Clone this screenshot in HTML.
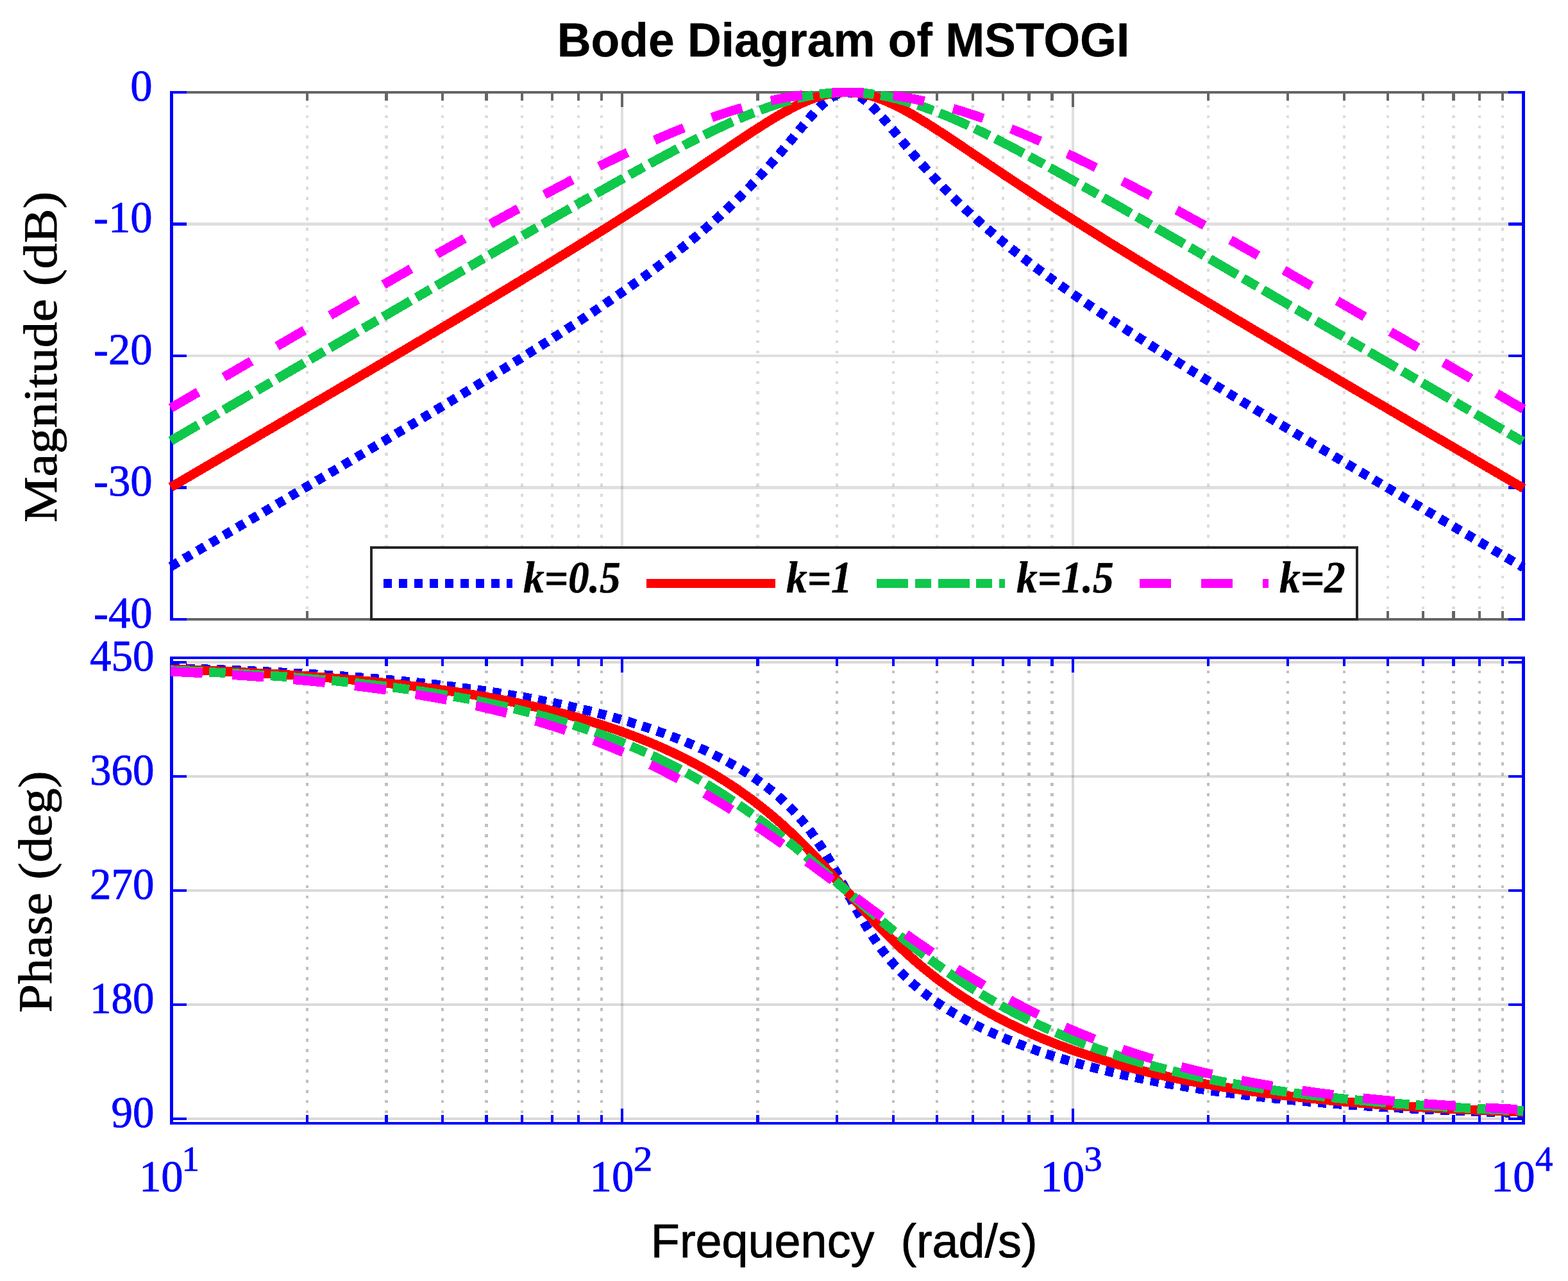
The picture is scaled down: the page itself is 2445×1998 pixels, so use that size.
<!DOCTYPE html>
<html lang="en"><head><meta charset="utf-8"><title>Bode Diagram of MSTOGI</title>
<style>html,body{margin:0;padding:0;background:#fff}body{width:2445px;height:1998px}svg{display:block}</style></head>
<body>
<svg width="2445" height="1998" viewBox="0 0 2445 1998" shape-rendering="crispEdges">
<rect width="2445" height="1998" fill="#fff"/>
<line x1="479" y1="144" x2="479" y2="966" stroke="#dcdcdc" stroke-width="4" stroke-dasharray="4.6 11.36" stroke-dashoffset="-3.64"/>
<line x1="602.5" y1="144" x2="602.5" y2="966" stroke="#dcdcdc" stroke-width="5" stroke-dasharray="4.6 11.36" stroke-dashoffset="-3.64"/>
<line x1="690" y1="144" x2="690" y2="966" stroke="#dcdcdc" stroke-width="4" stroke-dasharray="4.6 11.36" stroke-dashoffset="-3.64"/>
<line x1="758.5" y1="144" x2="758.5" y2="966" stroke="#dcdcdc" stroke-width="5" stroke-dasharray="4.6 11.36" stroke-dashoffset="-3.64"/>
<line x1="814" y1="144" x2="814" y2="966" stroke="#dcdcdc" stroke-width="4" stroke-dasharray="4.6 11.36" stroke-dashoffset="-3.64"/>
<line x1="861" y1="144" x2="861" y2="966" stroke="#dcdcdc" stroke-width="4" stroke-dasharray="4.6 11.36" stroke-dashoffset="-3.64"/>
<line x1="902" y1="144" x2="902" y2="966" stroke="#dcdcdc" stroke-width="4" stroke-dasharray="4.6 11.36" stroke-dashoffset="-3.64"/>
<line x1="938" y1="144" x2="938" y2="966" stroke="#dcdcdc" stroke-width="4" stroke-dasharray="4.6 11.36" stroke-dashoffset="-3.64"/>
<line x1="1181.5" y1="144" x2="1181.5" y2="966" stroke="#dcdcdc" stroke-width="5" stroke-dasharray="4.6 11.36" stroke-dashoffset="-3.64"/>
<line x1="1305" y1="144" x2="1305" y2="966" stroke="#dcdcdc" stroke-width="4" stroke-dasharray="4.6 11.36" stroke-dashoffset="-3.64"/>
<line x1="1393" y1="144" x2="1393" y2="966" stroke="#dcdcdc" stroke-width="4" stroke-dasharray="4.6 11.36" stroke-dashoffset="-3.64"/>
<line x1="1461" y1="144" x2="1461" y2="966" stroke="#dcdcdc" stroke-width="4" stroke-dasharray="4.6 11.36" stroke-dashoffset="-3.64"/>
<line x1="1517" y1="144" x2="1517" y2="966" stroke="#dcdcdc" stroke-width="4" stroke-dasharray="4.6 11.36" stroke-dashoffset="-3.64"/>
<line x1="1564" y1="144" x2="1564" y2="966" stroke="#dcdcdc" stroke-width="4" stroke-dasharray="4.6 11.36" stroke-dashoffset="-3.64"/>
<line x1="1604.5" y1="144" x2="1604.5" y2="966" stroke="#dcdcdc" stroke-width="5" stroke-dasharray="4.6 11.36" stroke-dashoffset="-3.64"/>
<line x1="1640.5" y1="144" x2="1640.5" y2="966" stroke="#dcdcdc" stroke-width="5" stroke-dasharray="4.6 11.36" stroke-dashoffset="-3.64"/>
<line x1="1884" y1="144" x2="1884" y2="966" stroke="#dcdcdc" stroke-width="4" stroke-dasharray="4.6 11.36" stroke-dashoffset="-3.64"/>
<line x1="2008" y1="144" x2="2008" y2="966" stroke="#dcdcdc" stroke-width="4" stroke-dasharray="4.6 11.36" stroke-dashoffset="-3.64"/>
<line x1="2096" y1="144" x2="2096" y2="966" stroke="#dcdcdc" stroke-width="4" stroke-dasharray="4.6 11.36" stroke-dashoffset="-3.64"/>
<line x1="2164" y1="144" x2="2164" y2="966" stroke="#dcdcdc" stroke-width="4" stroke-dasharray="4.6 11.36" stroke-dashoffset="-3.64"/>
<line x1="2219" y1="144" x2="2219" y2="966" stroke="#dcdcdc" stroke-width="4" stroke-dasharray="4.6 11.36" stroke-dashoffset="-3.64"/>
<line x1="2266.5" y1="144" x2="2266.5" y2="966" stroke="#dcdcdc" stroke-width="5" stroke-dasharray="4.6 11.36" stroke-dashoffset="-3.64"/>
<line x1="2307" y1="144" x2="2307" y2="966" stroke="#dcdcdc" stroke-width="4" stroke-dasharray="4.6 11.36" stroke-dashoffset="-3.64"/>
<line x1="2343" y1="144" x2="2343" y2="966" stroke="#dcdcdc" stroke-width="4" stroke-dasharray="4.6 11.36" stroke-dashoffset="-3.64"/>
<rect x="968" y="144" width="4" height="822" fill="rgba(38,38,38,0.15)"/>
<rect x="1671" y="144" width="4" height="822" fill="rgba(38,38,38,0.15)"/>
<rect x="267.5" y="347" width="2108" height="5" fill="rgba(38,38,38,0.15)"/>
<rect x="267.5" y="553" width="2108" height="4" fill="rgba(38,38,38,0.15)"/>
<rect x="267.5" y="758" width="2108" height="5" fill="rgba(38,38,38,0.15)"/>
<line x1="479" y1="1026" x2="479" y2="1752" stroke="#c0c0c0" stroke-width="4" stroke-dasharray="4.6 11.36" stroke-dashoffset="-3.62"/>
<line x1="602.5" y1="1026" x2="602.5" y2="1752" stroke="#c0c0c0" stroke-width="5" stroke-dasharray="4.6 11.36" stroke-dashoffset="-3.62"/>
<line x1="690" y1="1026" x2="690" y2="1752" stroke="#c0c0c0" stroke-width="4" stroke-dasharray="4.6 11.36" stroke-dashoffset="-3.62"/>
<line x1="758.5" y1="1026" x2="758.5" y2="1752" stroke="#c0c0c0" stroke-width="5" stroke-dasharray="4.6 11.36" stroke-dashoffset="-3.62"/>
<line x1="814" y1="1026" x2="814" y2="1752" stroke="#c0c0c0" stroke-width="4" stroke-dasharray="4.6 11.36" stroke-dashoffset="-3.62"/>
<line x1="861" y1="1026" x2="861" y2="1752" stroke="#c0c0c0" stroke-width="4" stroke-dasharray="4.6 11.36" stroke-dashoffset="-3.62"/>
<line x1="902" y1="1026" x2="902" y2="1752" stroke="#c0c0c0" stroke-width="4" stroke-dasharray="4.6 11.36" stroke-dashoffset="-3.62"/>
<line x1="938" y1="1026" x2="938" y2="1752" stroke="#c0c0c0" stroke-width="4" stroke-dasharray="4.6 11.36" stroke-dashoffset="-3.62"/>
<line x1="1181.5" y1="1026" x2="1181.5" y2="1752" stroke="#c0c0c0" stroke-width="5" stroke-dasharray="4.6 11.36" stroke-dashoffset="-3.62"/>
<line x1="1305" y1="1026" x2="1305" y2="1752" stroke="#c0c0c0" stroke-width="4" stroke-dasharray="4.6 11.36" stroke-dashoffset="-3.62"/>
<line x1="1393" y1="1026" x2="1393" y2="1752" stroke="#c0c0c0" stroke-width="4" stroke-dasharray="4.6 11.36" stroke-dashoffset="-3.62"/>
<line x1="1461" y1="1026" x2="1461" y2="1752" stroke="#c0c0c0" stroke-width="4" stroke-dasharray="4.6 11.36" stroke-dashoffset="-3.62"/>
<line x1="1517" y1="1026" x2="1517" y2="1752" stroke="#c0c0c0" stroke-width="4" stroke-dasharray="4.6 11.36" stroke-dashoffset="-3.62"/>
<line x1="1564" y1="1026" x2="1564" y2="1752" stroke="#c0c0c0" stroke-width="4" stroke-dasharray="4.6 11.36" stroke-dashoffset="-3.62"/>
<line x1="1604.5" y1="1026" x2="1604.5" y2="1752" stroke="#c0c0c0" stroke-width="5" stroke-dasharray="4.6 11.36" stroke-dashoffset="-3.62"/>
<line x1="1640.5" y1="1026" x2="1640.5" y2="1752" stroke="#c0c0c0" stroke-width="5" stroke-dasharray="4.6 11.36" stroke-dashoffset="-3.62"/>
<line x1="1884" y1="1026" x2="1884" y2="1752" stroke="#c0c0c0" stroke-width="4" stroke-dasharray="4.6 11.36" stroke-dashoffset="-3.62"/>
<line x1="2008" y1="1026" x2="2008" y2="1752" stroke="#c0c0c0" stroke-width="4" stroke-dasharray="4.6 11.36" stroke-dashoffset="-3.62"/>
<line x1="2096" y1="1026" x2="2096" y2="1752" stroke="#c0c0c0" stroke-width="4" stroke-dasharray="4.6 11.36" stroke-dashoffset="-3.62"/>
<line x1="2164" y1="1026" x2="2164" y2="1752" stroke="#c0c0c0" stroke-width="4" stroke-dasharray="4.6 11.36" stroke-dashoffset="-3.62"/>
<line x1="2219" y1="1026" x2="2219" y2="1752" stroke="#c0c0c0" stroke-width="4" stroke-dasharray="4.6 11.36" stroke-dashoffset="-3.62"/>
<line x1="2266.5" y1="1026" x2="2266.5" y2="1752" stroke="#c0c0c0" stroke-width="5" stroke-dasharray="4.6 11.36" stroke-dashoffset="-3.62"/>
<line x1="2307" y1="1026" x2="2307" y2="1752" stroke="#c0c0c0" stroke-width="4" stroke-dasharray="4.6 11.36" stroke-dashoffset="-3.62"/>
<line x1="2343" y1="1026" x2="2343" y2="1752" stroke="#c0c0c0" stroke-width="4" stroke-dasharray="4.6 11.36" stroke-dashoffset="-3.62"/>
<rect x="968" y="1026" width="4" height="726" fill="rgba(38,38,38,0.17)"/>
<rect x="1671" y="1026" width="4" height="726" fill="rgba(38,38,38,0.17)"/>
<rect x="267.5" y="1031" width="2108" height="4" fill="rgba(38,38,38,0.17)"/>
<rect x="267.5" y="1209" width="2108" height="4" fill="rgba(38,38,38,0.17)"/>
<rect x="267.5" y="1387" width="2108" height="4" fill="rgba(38,38,38,0.17)"/>
<rect x="267.5" y="1565" width="2108" height="4" fill="rgba(38,38,38,0.17)"/>
<rect x="267.5" y="1743" width="2108" height="4" fill="rgba(38,38,38,0.17)"/>
<rect x="265" y="142" width="2113" height="4" fill="#666666"/>
<rect x="265" y="964" width="2113" height="4" fill="#666666"/>
<rect x="477" y="144" width="4" height="13" fill="#666666"/>
<rect x="477" y="953" width="4" height="13" fill="#666666"/>
<rect x="600" y="144" width="5" height="13" fill="#666666"/>
<rect x="600" y="953" width="5" height="13" fill="#666666"/>
<rect x="688" y="144" width="4" height="13" fill="#666666"/>
<rect x="688" y="953" width="4" height="13" fill="#666666"/>
<rect x="756" y="144" width="5" height="13" fill="#666666"/>
<rect x="756" y="953" width="5" height="13" fill="#666666"/>
<rect x="812" y="144" width="4" height="13" fill="#666666"/>
<rect x="812" y="953" width="4" height="13" fill="#666666"/>
<rect x="859" y="144" width="4" height="13" fill="#666666"/>
<rect x="859" y="953" width="4" height="13" fill="#666666"/>
<rect x="900" y="144" width="4" height="13" fill="#666666"/>
<rect x="900" y="953" width="4" height="13" fill="#666666"/>
<rect x="936" y="144" width="4" height="13" fill="#666666"/>
<rect x="936" y="953" width="4" height="13" fill="#666666"/>
<rect x="1179" y="144" width="5" height="13" fill="#666666"/>
<rect x="1179" y="953" width="5" height="13" fill="#666666"/>
<rect x="1303" y="144" width="4" height="13" fill="#666666"/>
<rect x="1303" y="953" width="4" height="13" fill="#666666"/>
<rect x="1391" y="144" width="4" height="13" fill="#666666"/>
<rect x="1391" y="953" width="4" height="13" fill="#666666"/>
<rect x="1459" y="144" width="4" height="13" fill="#666666"/>
<rect x="1459" y="953" width="4" height="13" fill="#666666"/>
<rect x="1515" y="144" width="4" height="13" fill="#666666"/>
<rect x="1515" y="953" width="4" height="13" fill="#666666"/>
<rect x="1562" y="144" width="4" height="13" fill="#666666"/>
<rect x="1562" y="953" width="4" height="13" fill="#666666"/>
<rect x="1602" y="144" width="5" height="13" fill="#666666"/>
<rect x="1602" y="953" width="5" height="13" fill="#666666"/>
<rect x="1638" y="144" width="5" height="13" fill="#666666"/>
<rect x="1638" y="953" width="5" height="13" fill="#666666"/>
<rect x="1882" y="144" width="4" height="13" fill="#666666"/>
<rect x="1882" y="953" width="4" height="13" fill="#666666"/>
<rect x="2006" y="144" width="4" height="13" fill="#666666"/>
<rect x="2006" y="953" width="4" height="13" fill="#666666"/>
<rect x="2094" y="144" width="4" height="13" fill="#666666"/>
<rect x="2094" y="953" width="4" height="13" fill="#666666"/>
<rect x="2162" y="144" width="4" height="13" fill="#666666"/>
<rect x="2162" y="953" width="4" height="13" fill="#666666"/>
<rect x="2217" y="144" width="4" height="13" fill="#666666"/>
<rect x="2217" y="953" width="4" height="13" fill="#666666"/>
<rect x="2264" y="144" width="5" height="13" fill="#666666"/>
<rect x="2264" y="953" width="5" height="13" fill="#666666"/>
<rect x="2305" y="144" width="4" height="13" fill="#666666"/>
<rect x="2305" y="953" width="4" height="13" fill="#666666"/>
<rect x="2341" y="144" width="4" height="13" fill="#666666"/>
<rect x="2341" y="953" width="4" height="13" fill="#666666"/>
<rect x="968" y="144" width="4" height="23" fill="#666666"/>
<rect x="968" y="943" width="4" height="23" fill="#666666"/>
<rect x="1671" y="144" width="4" height="23" fill="#666666"/>
<rect x="1671" y="943" width="4" height="23" fill="#666666"/>
<rect x="265" y="142" width="5" height="826" fill="#0000ff"/>
<rect x="2373" y="142" width="5" height="826" fill="#0000ff"/>
<rect x="265" y="142" width="26" height="4" fill="#0000ff"/>
<rect x="2352" y="142" width="26" height="4" fill="#0000ff"/>
<rect x="265" y="347" width="26" height="5" fill="#0000ff"/>
<rect x="2352" y="347" width="26" height="5" fill="#0000ff"/>
<rect x="265" y="553" width="26" height="4" fill="#0000ff"/>
<rect x="2352" y="553" width="26" height="4" fill="#0000ff"/>
<rect x="265" y="758" width="26" height="5" fill="#0000ff"/>
<rect x="2352" y="758" width="26" height="5" fill="#0000ff"/>
<rect x="265" y="964" width="26" height="4" fill="#0000ff"/>
<rect x="2352" y="964" width="26" height="4" fill="#0000ff"/>
<rect x="265" y="1024" width="2113" height="4" fill="#0000ff"/>
<rect x="265" y="1750" width="2113" height="4" fill="#0000ff"/>
<rect x="477" y="1026" width="4" height="13" fill="#0000ff"/>
<rect x="477" y="1739" width="4" height="13" fill="#0000ff"/>
<rect x="600" y="1026" width="5" height="13" fill="#0000ff"/>
<rect x="600" y="1739" width="5" height="13" fill="#0000ff"/>
<rect x="688" y="1026" width="4" height="13" fill="#0000ff"/>
<rect x="688" y="1739" width="4" height="13" fill="#0000ff"/>
<rect x="756" y="1026" width="5" height="13" fill="#0000ff"/>
<rect x="756" y="1739" width="5" height="13" fill="#0000ff"/>
<rect x="812" y="1026" width="4" height="13" fill="#0000ff"/>
<rect x="812" y="1739" width="4" height="13" fill="#0000ff"/>
<rect x="859" y="1026" width="4" height="13" fill="#0000ff"/>
<rect x="859" y="1739" width="4" height="13" fill="#0000ff"/>
<rect x="900" y="1026" width="4" height="13" fill="#0000ff"/>
<rect x="900" y="1739" width="4" height="13" fill="#0000ff"/>
<rect x="936" y="1026" width="4" height="13" fill="#0000ff"/>
<rect x="936" y="1739" width="4" height="13" fill="#0000ff"/>
<rect x="1179" y="1026" width="5" height="13" fill="#0000ff"/>
<rect x="1179" y="1739" width="5" height="13" fill="#0000ff"/>
<rect x="1303" y="1026" width="4" height="13" fill="#0000ff"/>
<rect x="1303" y="1739" width="4" height="13" fill="#0000ff"/>
<rect x="1391" y="1026" width="4" height="13" fill="#0000ff"/>
<rect x="1391" y="1739" width="4" height="13" fill="#0000ff"/>
<rect x="1459" y="1026" width="4" height="13" fill="#0000ff"/>
<rect x="1459" y="1739" width="4" height="13" fill="#0000ff"/>
<rect x="1515" y="1026" width="4" height="13" fill="#0000ff"/>
<rect x="1515" y="1739" width="4" height="13" fill="#0000ff"/>
<rect x="1562" y="1026" width="4" height="13" fill="#0000ff"/>
<rect x="1562" y="1739" width="4" height="13" fill="#0000ff"/>
<rect x="1602" y="1026" width="5" height="13" fill="#0000ff"/>
<rect x="1602" y="1739" width="5" height="13" fill="#0000ff"/>
<rect x="1638" y="1026" width="5" height="13" fill="#0000ff"/>
<rect x="1638" y="1739" width="5" height="13" fill="#0000ff"/>
<rect x="1882" y="1026" width="4" height="13" fill="#0000ff"/>
<rect x="1882" y="1739" width="4" height="13" fill="#0000ff"/>
<rect x="2006" y="1026" width="4" height="13" fill="#0000ff"/>
<rect x="2006" y="1739" width="4" height="13" fill="#0000ff"/>
<rect x="2094" y="1026" width="4" height="13" fill="#0000ff"/>
<rect x="2094" y="1739" width="4" height="13" fill="#0000ff"/>
<rect x="2162" y="1026" width="4" height="13" fill="#0000ff"/>
<rect x="2162" y="1739" width="4" height="13" fill="#0000ff"/>
<rect x="2217" y="1026" width="4" height="13" fill="#0000ff"/>
<rect x="2217" y="1739" width="4" height="13" fill="#0000ff"/>
<rect x="2264" y="1026" width="5" height="13" fill="#0000ff"/>
<rect x="2264" y="1739" width="5" height="13" fill="#0000ff"/>
<rect x="2305" y="1026" width="4" height="13" fill="#0000ff"/>
<rect x="2305" y="1739" width="4" height="13" fill="#0000ff"/>
<rect x="2341" y="1026" width="4" height="13" fill="#0000ff"/>
<rect x="2341" y="1739" width="4" height="13" fill="#0000ff"/>
<rect x="968" y="1026" width="4" height="23" fill="#0000ff"/>
<rect x="968" y="1729" width="4" height="23" fill="#0000ff"/>
<rect x="1671" y="1026" width="4" height="23" fill="#0000ff"/>
<rect x="1671" y="1729" width="4" height="23" fill="#0000ff"/>
<rect x="265" y="1024" width="5" height="730" fill="#0000ff"/>
<rect x="2373" y="1024" width="5" height="730" fill="#0000ff"/>
<rect x="265" y="1031" width="26" height="4" fill="#0000ff"/>
<rect x="2352" y="1031" width="26" height="4" fill="#0000ff"/>
<rect x="265" y="1209" width="26" height="4" fill="#0000ff"/>
<rect x="2352" y="1209" width="26" height="4" fill="#0000ff"/>
<rect x="265" y="1387" width="26" height="4" fill="#0000ff"/>
<rect x="2352" y="1387" width="26" height="4" fill="#0000ff"/>
<rect x="265" y="1565" width="26" height="4" fill="#0000ff"/>
<rect x="2352" y="1565" width="26" height="4" fill="#0000ff"/>
<rect x="265" y="1743" width="26" height="4" fill="#0000ff"/>
<rect x="2352" y="1743" width="26" height="4" fill="#0000ff"/>
<g fill="none" stroke-width="14.6" stroke-linejoin="round" shape-rendering="crispEdges">
<polyline points="266.3,883.6 267.5,882.9 271.0,880.8 274.5,878.8 278.0,876.7 281.6,874.7 285.1,872.6 288.6,870.5 292.1,868.5 295.6,866.4 299.1,864.4 302.6,862.3 306.1,860.2 309.7,858.2 313.2,856.1 316.7,854.1 320.2,852.0 323.7,849.9 327.2,847.9 330.7,845.8 334.3,843.8 337.8,841.7 341.3,839.6 344.8,837.6 348.3,835.5 351.8,833.5 355.3,831.4 358.8,829.3 362.4,827.3 365.9,825.2 369.4,823.1 372.9,821.1 376.4,819.0 379.9,817.0 383.4,814.9 387.0,812.8 390.5,810.8 394.0,808.7 397.5,806.6 401.0,804.6 404.5,802.5 408.0,800.5 411.5,798.4 415.1,796.3 418.6,794.3 422.1,792.2 425.6,790.1 429.1,788.1 432.6,786.0 436.1,783.9 439.7,781.9 443.2,779.8 446.7,777.7 450.2,775.7 453.7,773.6 457.2,771.5 460.7,769.5 464.2,767.4 467.8,765.3 471.3,763.3 474.8,761.2 478.3,759.1 481.8,757.1 485.3,755.0 488.8,752.9 492.4,750.8 495.9,748.8 499.4,746.7 502.9,744.6 506.4,742.6 509.9,740.5 513.4,738.4 516.9,736.3 520.5,734.3 524.0,732.2 527.5,730.1 531.0,728.0 534.5,726.0 538.0,723.9 541.5,721.8 545.1,719.7 548.6,717.7 552.1,715.6 555.6,713.5 559.1,711.4 562.6,709.3 566.1,707.3 569.6,705.2 573.2,703.1 576.7,701.0 580.2,698.9 583.7,696.8 587.2,694.8 590.7,692.7 594.2,690.6 597.8,688.5 601.3,686.4 604.8,684.3 608.3,682.2 611.8,680.1 615.3,678.1 618.8,676.0 622.3,673.9 625.9,671.8 629.4,669.7 632.9,667.6 636.4,665.5 639.9,663.4 643.4,661.3 646.9,659.2 650.5,657.1 654.0,655.0 657.5,652.9 661.0,650.8 664.5,648.7 668.0,646.6 671.5,644.5 675.0,642.4 678.6,640.3 682.1,638.2 685.6,636.0 689.1,633.9 692.6,631.8 696.1,629.7 699.6,627.6 703.2,625.5 706.7,623.3 710.2,621.2 713.7,619.1 717.2,617.0 720.7,614.9 724.2,612.7 727.7,610.6 731.3,608.5 734.8,606.3 738.3,604.2 741.8,602.1 745.3,599.9 748.8,597.8 752.3,595.6 755.9,593.5 759.4,591.3 762.9,589.2 766.4,587.0 769.9,584.9 773.4,582.7 776.9,580.6 780.4,578.4 784.0,576.3 787.5,574.1 791.0,571.9 794.5,569.7 798.0,567.6 801.5,565.4 805.0,563.2 808.6,561.0 812.1,558.9 815.6,556.7 819.1,554.5 822.6,552.3 826.1,550.1 829.6,547.9 833.1,545.7 836.7,543.5 840.2,541.2 843.7,539.0 847.2,536.8 850.7,534.6 854.2,532.4 857.7,530.1 861.3,527.9 864.8,525.6 868.3,523.4 871.8,521.2 875.3,518.9 878.8,516.6 882.3,514.4 885.8,512.1 889.4,509.8 892.9,507.5 896.4,505.3 899.9,503.0 903.4,500.7 906.9,498.4 910.4,496.1 914.0,493.8 917.5,491.4 921.0,489.1 924.5,486.8 928.0,484.4 931.5,482.1 935.0,479.7 938.5,477.4 942.1,475.0 945.6,472.6 949.1,470.2 952.6,467.8 956.1,465.4 959.6,463.0 963.1,460.6 966.7,458.2 970.2,455.7 973.7,453.3 977.2,450.8 980.7,448.4 984.2,445.9 987.7,443.4 991.2,440.9 994.8,438.4 998.3,435.9 1001.8,433.4 1005.3,430.8 1008.8,428.3 1012.3,425.7 1015.8,423.1 1019.4,420.5 1022.9,417.9 1026.4,415.3 1029.9,412.6 1033.4,410.0 1036.9,407.3 1040.4,404.7 1043.9,402.0 1047.5,399.2 1051.0,396.5 1054.5,393.8 1058.0,391.0 1061.5,388.2 1065.0,385.4 1068.5,382.6 1072.1,379.8 1075.6,376.9 1079.1,374.0 1082.6,371.1 1086.1,368.2 1089.6,365.3 1093.1,362.3 1096.6,359.3 1100.2,356.3 1103.7,353.3 1107.2,350.2 1110.7,347.1 1114.2,344.0 1117.7,340.8 1121.2,337.7 1124.8,334.5 1128.3,331.2 1131.8,328.0 1135.3,324.7 1138.8,321.4 1142.3,318.0 1145.8,314.6 1149.3,311.2 1152.9,307.8 1156.4,304.3 1159.9,300.7 1163.4,297.2 1166.9,293.6 1170.4,290.0 1173.9,286.3 1177.5,282.6 1181.0,278.8 1184.5,275.0 1188.0,271.2 1191.5,267.4 1195.0,263.5 1198.5,259.5 1202.0,255.5 1205.6,251.5 1209.1,247.5 1212.6,243.4 1216.1,239.3 1219.6,235.1 1223.1,231.0 1226.6,226.8 1230.2,222.5 1233.7,218.3 1237.2,214.1 1240.7,209.8 1244.2,205.6 1247.7,201.4 1251.2,197.2 1254.7,193.0 1258.3,188.9 1261.8,184.8 1265.3,180.8 1268.8,176.9 1272.3,173.1 1275.8,169.4 1279.3,165.9 1282.9,162.6 1286.4,159.5 1289.9,156.6 1293.4,153.9 1296.9,151.5 1300.4,149.4 1303.9,147.6 1307.4,146.2 1311.0,145.1 1314.5,144.4 1318.0,144.0 1321.5,144.1 1325.0,144.5 1328.5,145.2 1332.0,146.4 1335.6,147.9 1339.1,149.7 1342.6,151.8 1346.1,154.3 1349.6,157.0 1353.1,159.9 1356.6,163.1 1360.1,166.4 1363.7,169.9 1367.2,173.6 1370.7,177.4 1374.2,181.3 1377.7,185.4 1381.2,189.4 1384.7,193.6 1388.3,197.7 1391.8,202.0 1395.3,206.2 1398.8,210.4 1402.3,214.7 1405.8,218.9 1409.3,223.1 1412.8,227.4 1416.4,231.5 1419.9,235.7 1423.4,239.9 1426.9,244.0 1430.4,248.0 1433.9,252.1 1437.4,256.1 1441.0,260.1 1444.5,264.0 1448.0,267.9 1451.5,271.8 1455.0,275.6 1458.5,279.4 1462.0,283.1 1465.5,286.8 1469.1,290.5 1472.6,294.1 1476.1,297.7 1479.6,301.2 1483.1,304.8 1486.6,308.2 1490.1,311.7 1493.7,315.1 1497.2,318.5 1500.7,321.8 1504.2,325.2 1507.7,328.4 1511.2,331.7 1514.7,334.9 1518.2,338.1 1521.8,341.3 1525.3,344.4 1528.8,347.5 1532.3,350.6 1535.8,353.7 1539.3,356.7 1542.8,359.7 1546.4,362.7 1549.9,365.7 1553.4,368.6 1556.9,371.5 1560.4,374.4 1563.9,377.3 1567.4,380.2 1570.9,383.0 1574.5,385.8 1578.0,388.6 1581.5,391.4 1585.0,394.2 1588.5,396.9 1592.0,399.6 1595.5,402.3 1599.1,405.0 1602.6,407.7 1606.1,410.4 1609.6,413.0 1613.1,415.7 1616.6,418.3 1620.1,420.9 1623.6,423.5 1627.2,426.0 1630.7,428.6 1634.2,431.2 1637.7,433.7 1641.2,436.2 1644.7,438.8 1648.2,441.3 1651.8,443.8 1655.3,446.2 1658.8,448.7 1662.3,451.2 1665.8,453.6 1669.3,456.1 1672.8,458.5 1676.3,460.9 1679.9,463.4 1683.4,465.8 1686.9,468.2 1690.4,470.6 1693.9,472.9 1697.4,475.3 1700.9,477.7 1704.5,480.1 1708.0,482.4 1711.5,484.8 1715.0,487.1 1718.5,489.4 1722.0,491.8 1725.5,494.1 1729.0,496.4 1732.6,498.7 1736.1,501.0 1739.6,503.3 1743.1,505.6 1746.6,507.9 1750.1,510.1 1753.6,512.4 1757.2,514.7 1760.7,517.0 1764.2,519.2 1767.7,521.5 1771.2,523.7 1774.7,526.0 1778.2,528.2 1781.7,530.4 1785.3,532.7 1788.8,534.9 1792.3,537.1 1795.8,539.3 1799.3,541.6 1802.8,543.8 1806.3,546.0 1809.9,548.2 1813.4,550.4 1816.9,552.6 1820.4,554.8 1823.9,557.0 1827.4,559.2 1830.9,561.3 1834.4,563.5 1838.0,565.7 1841.5,567.9 1845.0,570.1 1848.5,572.2 1852.0,574.4 1855.5,576.6 1859.0,578.7 1862.6,580.9 1866.1,583.0 1869.6,585.2 1873.1,587.3 1876.6,589.5 1880.1,591.6 1883.6,593.8 1887.1,595.9 1890.7,598.1 1894.2,600.2 1897.7,602.4 1901.2,604.5 1904.7,606.6 1908.2,608.8 1911.7,610.9 1915.3,613.0 1918.8,615.2 1922.3,617.3 1925.8,619.4 1929.3,621.5 1932.8,623.6 1936.3,625.8 1939.8,627.9 1943.4,630.0 1946.9,632.1 1950.4,634.2 1953.9,636.3 1957.4,638.5 1960.9,640.6 1964.4,642.7 1968.0,644.8 1971.5,646.9 1975.0,649.0 1978.5,651.1 1982.0,653.2 1985.5,655.3 1989.0,657.4 1992.5,659.5 1996.1,661.6 1999.6,663.7 2003.1,665.8 2006.6,667.9 2010.1,670.0 2013.6,672.1 2017.1,674.2 2020.7,676.3 2024.2,678.3 2027.7,680.4 2031.2,682.5 2034.7,684.6 2038.2,686.7 2041.7,688.8 2045.2,690.9 2048.8,693.0 2052.3,695.0 2055.8,697.1 2059.3,699.2 2062.8,701.3 2066.3,703.4 2069.8,705.5 2073.4,707.5 2076.9,709.6 2080.4,711.7 2083.9,713.8 2087.4,715.9 2090.9,717.9 2094.4,720.0 2097.9,722.1 2101.5,724.2 2105.0,726.3 2108.5,728.3 2112.0,730.4 2115.5,732.5 2119.0,734.6 2122.5,736.6 2126.1,738.7 2129.6,740.8 2133.1,742.8 2136.6,744.9 2140.1,747.0 2143.6,749.1 2147.1,751.1 2150.6,753.2 2154.2,755.3 2157.7,757.3 2161.2,759.4 2164.7,761.5 2168.2,763.5 2171.7,765.6 2175.2,767.7 2178.8,769.8 2182.3,771.8 2185.8,773.9 2189.3,776.0 2192.8,778.0 2196.3,780.1 2199.8,782.2 2203.3,784.2 2206.9,786.3 2210.4,788.4 2213.9,790.4 2217.4,792.5 2220.9,794.5 2224.4,796.6 2227.9,798.7 2231.5,800.7 2235.0,802.8 2238.5,804.9 2242.0,806.9 2245.5,809.0 2249.0,811.1 2252.5,813.1 2256.0,815.2 2259.6,817.2 2263.1,819.3 2266.6,821.4 2270.1,823.4 2273.6,825.5 2277.1,827.6 2280.6,829.6 2284.2,831.7 2287.7,833.7 2291.2,835.8 2294.7,837.9 2298.2,839.9 2301.7,842.0 2305.2,844.1 2308.7,846.1 2312.3,848.2 2315.8,850.2 2319.3,852.3 2322.8,854.4 2326.3,856.4 2329.8,858.5 2333.3,860.5 2336.9,862.6 2340.4,864.7 2343.9,866.7 2347.4,868.8 2350.9,870.8 2354.4,872.9 2357.9,874.9 2361.4,877.0 2365.0,879.1 2368.5,881.1 2372.0,883.2 2375.5,885.2" stroke="#0000ff" stroke-dasharray="13.3 10.67"/>
<polyline points="266.3,759.9 267.5,759.2 271.0,757.2 274.5,755.1 278.0,753.1 281.6,751.0 285.1,749.0 288.6,746.9 292.1,744.8 295.6,742.8 299.1,740.7 302.6,738.7 306.1,736.6 309.7,734.5 313.2,732.5 316.7,730.4 320.2,728.4 323.7,726.3 327.2,724.3 330.7,722.2 334.3,720.1 337.8,718.1 341.3,716.0 344.8,714.0 348.3,711.9 351.8,709.9 355.3,707.8 358.8,705.7 362.4,703.7 365.9,701.6 369.4,699.6 372.9,697.5 376.4,695.4 379.9,693.4 383.4,691.3 387.0,689.3 390.5,687.2 394.0,685.1 397.5,683.1 401.0,681.0 404.5,679.0 408.0,676.9 411.5,674.8 415.1,672.8 418.6,670.7 422.1,668.7 425.6,666.6 429.1,664.5 432.6,662.5 436.1,660.4 439.7,658.4 443.2,656.3 446.7,654.2 450.2,652.2 453.7,650.1 457.2,648.0 460.7,646.0 464.2,643.9 467.8,641.9 471.3,639.8 474.8,637.7 478.3,635.7 481.8,633.6 485.3,631.5 488.8,629.5 492.4,627.4 495.9,625.4 499.4,623.3 502.9,621.2 506.4,619.2 509.9,617.1 513.4,615.0 516.9,613.0 520.5,610.9 524.0,608.8 527.5,606.8 531.0,604.7 534.5,602.6 538.0,600.6 541.5,598.5 545.1,596.4 548.6,594.4 552.1,592.3 555.6,590.2 559.1,588.2 562.6,586.1 566.1,584.0 569.6,581.9 573.2,579.9 576.7,577.8 580.2,575.7 583.7,573.7 587.2,571.6 590.7,569.5 594.2,567.4 597.8,565.4 601.3,563.3 604.8,561.2 608.3,559.2 611.8,557.1 615.3,555.0 618.8,552.9 622.3,550.9 625.9,548.8 629.4,546.7 632.9,544.6 636.4,542.5 639.9,540.5 643.4,538.4 646.9,536.3 650.5,534.2 654.0,532.1 657.5,530.1 661.0,528.0 664.5,525.9 668.0,523.8 671.5,521.7 675.0,519.7 678.6,517.6 682.1,515.5 685.6,513.4 689.1,511.3 692.6,509.2 696.1,507.1 699.6,505.0 703.2,503.0 706.7,500.9 710.2,498.8 713.7,496.7 717.2,494.6 720.7,492.5 724.2,490.4 727.7,488.3 731.3,486.2 734.8,484.1 738.3,482.0 741.8,479.9 745.3,477.8 748.8,475.7 752.3,473.6 755.9,471.5 759.4,469.4 762.9,467.3 766.4,465.2 769.9,463.1 773.4,461.0 776.9,458.8 780.4,456.7 784.0,454.6 787.5,452.5 791.0,450.4 794.5,448.3 798.0,446.1 801.5,444.0 805.0,441.9 808.6,439.8 812.1,437.7 815.6,435.5 819.1,433.4 822.6,431.3 826.1,429.1 829.6,427.0 833.1,424.9 836.7,422.7 840.2,420.6 843.7,418.5 847.2,416.3 850.7,414.2 854.2,412.0 857.7,409.9 861.3,407.7 864.8,405.6 868.3,403.4 871.8,401.3 875.3,399.1 878.8,396.9 882.3,394.8 885.8,392.6 889.4,390.4 892.9,388.3 896.4,386.1 899.9,383.9 903.4,381.7 906.9,379.6 910.4,377.4 914.0,375.2 917.5,373.0 921.0,370.8 924.5,368.6 928.0,366.4 931.5,364.2 935.0,362.0 938.5,359.8 942.1,357.6 945.6,355.4 949.1,353.2 952.6,351.0 956.1,348.7 959.6,346.5 963.1,344.3 966.7,342.0 970.2,339.8 973.7,337.6 977.2,335.3 980.7,333.1 984.2,330.8 987.7,328.6 991.2,326.3 994.8,324.1 998.3,321.8 1001.8,319.5 1005.3,317.2 1008.8,315.0 1012.3,312.7 1015.8,310.4 1019.4,308.1 1022.9,305.8 1026.4,303.5 1029.9,301.2 1033.4,298.9 1036.9,296.6 1040.4,294.3 1043.9,292.0 1047.5,289.7 1051.0,287.3 1054.5,285.0 1058.0,282.7 1061.5,280.4 1065.0,278.0 1068.5,275.7 1072.1,273.3 1075.6,271.0 1079.1,268.6 1082.6,266.3 1086.1,263.9 1089.6,261.6 1093.1,259.2 1096.6,256.8 1100.2,254.5 1103.7,252.1 1107.2,249.7 1110.7,247.4 1114.2,245.0 1117.7,242.6 1121.2,240.2 1124.8,237.9 1128.3,235.5 1131.8,233.1 1135.3,230.8 1138.8,228.4 1142.3,226.0 1145.8,223.7 1149.3,221.3 1152.9,219.0 1156.4,216.6 1159.9,214.3 1163.4,211.9 1166.9,209.6 1170.4,207.3 1173.9,205.0 1177.5,202.7 1181.0,200.5 1184.5,198.2 1188.0,196.0 1191.5,193.7 1195.0,191.5 1198.5,189.3 1202.0,187.2 1205.6,185.0 1209.1,182.9 1212.6,180.9 1216.1,178.8 1219.6,176.8 1223.1,174.8 1226.6,172.9 1230.2,171.0 1233.7,169.1 1237.2,167.3 1240.7,165.5 1244.2,163.8 1247.7,162.1 1251.2,160.5 1254.7,159.0 1258.3,157.5 1261.8,156.1 1265.3,154.7 1268.8,153.4 1272.3,152.2 1275.8,151.1 1279.3,150.0 1282.9,149.0 1286.4,148.1 1289.9,147.3 1293.4,146.6 1296.9,145.9 1300.4,145.4 1303.9,144.9 1307.4,144.6 1311.0,144.3 1314.5,144.1 1318.0,144.0 1321.5,144.0 1325.0,144.1 1328.5,144.3 1332.0,144.6 1335.6,145.0 1339.1,145.5 1342.6,146.0 1346.1,146.7 1349.6,147.4 1353.1,148.2 1356.6,149.2 1360.1,150.2 1363.7,151.2 1367.2,152.4 1370.7,153.6 1374.2,154.9 1377.7,156.3 1381.2,157.7 1384.7,159.2 1388.3,160.8 1391.8,162.4 1395.3,164.0 1398.8,165.8 1402.3,167.5 1405.8,169.4 1409.3,171.2 1412.8,173.1 1416.4,175.1 1419.9,177.1 1423.4,179.1 1426.9,181.1 1430.4,183.2 1433.9,185.3 1437.4,187.5 1441.0,189.7 1444.5,191.8 1448.0,194.0 1451.5,196.3 1455.0,198.5 1458.5,200.8 1462.0,203.1 1465.5,205.3 1469.1,207.6 1472.6,210.0 1476.1,212.3 1479.6,214.6 1483.1,216.9 1486.6,219.3 1490.1,221.6 1493.7,224.0 1497.2,226.4 1500.7,228.7 1504.2,231.1 1507.7,233.5 1511.2,235.8 1514.7,238.2 1518.2,240.6 1521.8,242.9 1525.3,245.3 1528.8,247.7 1532.3,250.1 1535.8,252.4 1539.3,254.8 1542.8,257.2 1546.4,259.5 1549.9,261.9 1553.4,264.2 1556.9,266.6 1560.4,269.0 1563.9,271.3 1567.4,273.7 1570.9,276.0 1574.5,278.3 1578.0,280.7 1581.5,283.0 1585.0,285.3 1588.5,287.7 1592.0,290.0 1595.5,292.3 1599.1,294.6 1602.6,296.9 1606.1,299.2 1609.6,301.6 1613.1,303.9 1616.6,306.1 1620.1,308.4 1623.6,310.7 1627.2,313.0 1630.7,315.3 1634.2,317.6 1637.7,319.8 1641.2,322.1 1644.7,324.4 1648.2,326.6 1651.8,328.9 1655.3,331.1 1658.8,333.4 1662.3,335.6 1665.8,337.9 1669.3,340.1 1672.8,342.4 1676.3,344.6 1679.9,346.8 1683.4,349.0 1686.9,351.3 1690.4,353.5 1693.9,355.7 1697.4,357.9 1700.9,360.1 1704.5,362.3 1708.0,364.5 1711.5,366.7 1715.0,368.9 1718.5,371.1 1722.0,373.3 1725.5,375.5 1729.0,377.7 1732.6,379.9 1736.1,382.0 1739.6,384.2 1743.1,386.4 1746.6,388.6 1750.1,390.7 1753.6,392.9 1757.2,395.1 1760.7,397.2 1764.2,399.4 1767.7,401.6 1771.2,403.7 1774.7,405.9 1778.2,408.0 1781.7,410.2 1785.3,412.3 1788.8,414.5 1792.3,416.6 1795.8,418.8 1799.3,420.9 1802.8,423.0 1806.3,425.2 1809.9,427.3 1813.4,429.4 1816.9,431.6 1820.4,433.7 1823.9,435.8 1827.4,438.0 1830.9,440.1 1834.4,442.2 1838.0,444.3 1841.5,446.4 1845.0,448.6 1848.5,450.7 1852.0,452.8 1855.5,454.9 1859.0,457.0 1862.6,459.1 1866.1,461.2 1869.6,463.4 1873.1,465.5 1876.6,467.6 1880.1,469.7 1883.6,471.8 1887.1,473.9 1890.7,476.0 1894.2,478.1 1897.7,480.2 1901.2,482.3 1904.7,484.4 1908.2,486.5 1911.7,488.6 1915.3,490.7 1918.8,492.8 1922.3,494.9 1925.8,497.0 1929.3,499.1 1932.8,501.2 1936.3,503.2 1939.8,505.3 1943.4,507.4 1946.9,509.5 1950.4,511.6 1953.9,513.7 1957.4,515.8 1960.9,517.9 1964.4,519.9 1968.0,522.0 1971.5,524.1 1975.0,526.2 1978.5,528.3 1982.0,530.4 1985.5,532.4 1989.0,534.5 1992.5,536.6 1996.1,538.7 1999.6,540.8 2003.1,542.8 2006.6,544.9 2010.1,547.0 2013.6,549.1 2017.1,551.1 2020.7,553.2 2024.2,555.3 2027.7,557.4 2031.2,559.4 2034.7,561.5 2038.2,563.6 2041.7,565.7 2045.2,567.7 2048.8,569.8 2052.3,571.9 2055.8,574.0 2059.3,576.0 2062.8,578.1 2066.3,580.2 2069.8,582.2 2073.4,584.3 2076.9,586.4 2080.4,588.4 2083.9,590.5 2087.4,592.6 2090.9,594.6 2094.4,596.7 2097.9,598.8 2101.5,600.9 2105.0,602.9 2108.5,605.0 2112.0,607.1 2115.5,609.1 2119.0,611.2 2122.5,613.3 2126.1,615.3 2129.6,617.4 2133.1,619.4 2136.6,621.5 2140.1,623.6 2143.6,625.6 2147.1,627.7 2150.6,629.8 2154.2,631.8 2157.7,633.9 2161.2,636.0 2164.7,638.0 2168.2,640.1 2171.7,642.1 2175.2,644.2 2178.8,646.3 2182.3,648.3 2185.8,650.4 2189.3,652.5 2192.8,654.5 2196.3,656.6 2199.8,658.6 2203.3,660.7 2206.9,662.8 2210.4,664.8 2213.9,666.9 2217.4,668.9 2220.9,671.0 2224.4,673.1 2227.9,675.1 2231.5,677.2 2235.0,679.3 2238.5,681.3 2242.0,683.4 2245.5,685.4 2249.0,687.5 2252.5,689.5 2256.0,691.6 2259.6,693.7 2263.1,695.7 2266.6,697.8 2270.1,699.8 2273.6,701.9 2277.1,704.0 2280.6,706.0 2284.2,708.1 2287.7,710.1 2291.2,712.2 2294.7,714.3 2298.2,716.3 2301.7,718.4 2305.2,720.4 2308.7,722.5 2312.3,724.5 2315.8,726.6 2319.3,728.7 2322.8,730.7 2326.3,732.8 2329.8,734.8 2333.3,736.9 2336.9,739.0 2340.4,741.0 2343.9,743.1 2347.4,745.1 2350.9,747.2 2354.4,749.2 2357.9,751.3 2361.4,753.4 2365.0,755.4 2368.5,757.5 2372.0,759.5 2375.5,761.6" stroke="#ff0000"/>
<polyline points="266.3,687.7 267.5,687.0 271.0,684.9 274.5,682.9 278.0,680.8 281.6,678.8 285.1,676.7 288.6,674.7 292.1,672.6 295.6,670.5 299.1,668.5 302.6,666.4 306.1,664.4 309.7,662.3 313.2,660.3 316.7,658.2 320.2,656.2 323.7,654.1 327.2,652.1 330.7,650.0 334.3,647.9 337.8,645.9 341.3,643.8 344.8,641.8 348.3,639.7 351.8,637.7 355.3,635.6 358.8,633.6 362.4,631.5 365.9,629.5 369.4,627.4 372.9,625.4 376.4,623.3 379.9,621.2 383.4,619.2 387.0,617.1 390.5,615.1 394.0,613.0 397.5,611.0 401.0,608.9 404.5,606.9 408.0,604.8 411.5,602.8 415.1,600.7 418.6,598.7 422.1,596.6 425.6,594.5 429.1,592.5 432.6,590.4 436.1,588.4 439.7,586.3 443.2,584.3 446.7,582.2 450.2,580.2 453.7,578.1 457.2,576.1 460.7,574.0 464.2,572.0 467.8,569.9 471.3,567.9 474.8,565.8 478.3,563.7 481.8,561.7 485.3,559.6 488.8,557.6 492.4,555.5 495.9,553.5 499.4,551.4 502.9,549.4 506.4,547.3 509.9,545.3 513.4,543.2 516.9,541.2 520.5,539.1 524.0,537.1 527.5,535.0 531.0,533.0 534.5,530.9 538.0,528.9 541.5,526.8 545.1,524.8 548.6,522.7 552.1,520.6 555.6,518.6 559.1,516.5 562.6,514.5 566.1,512.4 569.6,510.4 573.2,508.3 576.7,506.3 580.2,504.2 583.7,502.2 587.2,500.1 590.7,498.1 594.2,496.0 597.8,494.0 601.3,491.9 604.8,489.9 608.3,487.8 611.8,485.8 615.3,483.7 618.8,481.7 622.3,479.6 625.9,477.6 629.4,475.5 632.9,473.5 636.4,471.4 639.9,469.4 643.4,467.3 646.9,465.3 650.5,463.3 654.0,461.2 657.5,459.2 661.0,457.1 664.5,455.1 668.0,453.0 671.5,451.0 675.0,448.9 678.6,446.9 682.1,444.8 685.6,442.8 689.1,440.7 692.6,438.7 696.1,436.6 699.6,434.6 703.2,432.6 706.7,430.5 710.2,428.5 713.7,426.4 717.2,424.4 720.7,422.3 724.2,420.3 727.7,418.2 731.3,416.2 734.8,414.2 738.3,412.1 741.8,410.1 745.3,408.0 748.8,406.0 752.3,404.0 755.9,401.9 759.4,399.9 762.9,397.8 766.4,395.8 769.9,393.8 773.4,391.7 776.9,389.7 780.4,387.7 784.0,385.6 787.5,383.6 791.0,381.5 794.5,379.5 798.0,377.5 801.5,375.4 805.0,373.4 808.6,371.4 812.1,369.3 815.6,367.3 819.1,365.3 822.6,363.3 826.1,361.2 829.6,359.2 833.1,357.2 836.7,355.1 840.2,353.1 843.7,351.1 847.2,349.1 850.7,347.0 854.2,345.0 857.7,343.0 861.3,341.0 864.8,339.0 868.3,336.9 871.8,334.9 875.3,332.9 878.8,330.9 882.3,328.9 885.8,326.9 889.4,324.9 892.9,322.8 896.4,320.8 899.9,318.8 903.4,316.8 906.9,314.8 910.4,312.8 914.0,310.8 917.5,308.8 921.0,306.8 924.5,304.8 928.0,302.8 931.5,300.8 935.0,298.8 938.5,296.9 942.1,294.9 945.6,292.9 949.1,290.9 952.6,288.9 956.1,287.0 959.6,285.0 963.1,283.0 966.7,281.0 970.2,279.1 973.7,277.1 977.2,275.2 980.7,273.2 984.2,271.2 987.7,269.3 991.2,267.3 994.8,265.4 998.3,263.5 1001.8,261.5 1005.3,259.6 1008.8,257.7 1012.3,255.8 1015.8,253.8 1019.4,251.9 1022.9,250.0 1026.4,248.1 1029.9,246.2 1033.4,244.3 1036.9,242.4 1040.4,240.6 1043.9,238.7 1047.5,236.8 1051.0,234.9 1054.5,233.1 1058.0,231.2 1061.5,229.4 1065.0,227.6 1068.5,225.7 1072.1,223.9 1075.6,222.1 1079.1,220.3 1082.6,218.5 1086.1,216.7 1089.6,215.0 1093.1,213.2 1096.6,211.4 1100.2,209.7 1103.7,208.0 1107.2,206.2 1110.7,204.5 1114.2,202.8 1117.7,201.2 1121.2,199.5 1124.8,197.8 1128.3,196.2 1131.8,194.6 1135.3,192.9 1138.8,191.3 1142.3,189.8 1145.8,188.2 1149.3,186.6 1152.9,185.1 1156.4,183.6 1159.9,182.1 1163.4,180.6 1166.9,179.2 1170.4,177.7 1173.9,176.3 1177.5,174.9 1181.0,173.5 1184.5,172.2 1188.0,170.9 1191.5,169.6 1195.0,168.3 1198.5,167.0 1202.0,165.8 1205.6,164.6 1209.1,163.4 1212.6,162.3 1216.1,161.2 1219.6,160.1 1223.1,159.0 1226.6,158.0 1230.2,157.0 1233.7,156.0 1237.2,155.1 1240.7,154.2 1244.2,153.3 1247.7,152.5 1251.2,151.7 1254.7,151.0 1258.3,150.3 1261.8,149.6 1265.3,148.9 1268.8,148.3 1272.3,147.7 1275.8,147.2 1279.3,146.7 1282.9,146.3 1286.4,145.9 1289.9,145.5 1293.4,145.2 1296.9,144.9 1300.4,144.6 1303.9,144.4 1307.4,144.2 1311.0,144.1 1314.5,144.0 1318.0,144.0 1321.5,144.0 1325.0,144.1 1328.5,144.1 1332.0,144.3 1335.6,144.4 1339.1,144.7 1342.6,144.9 1346.1,145.2 1349.6,145.5 1353.1,145.9 1356.6,146.3 1360.1,146.8 1363.7,147.3 1367.2,147.8 1370.7,148.4 1374.2,149.0 1377.7,149.7 1381.2,150.3 1384.7,151.1 1388.3,151.8 1391.8,152.6 1395.3,153.5 1398.8,154.3 1402.3,155.2 1405.8,156.2 1409.3,157.1 1412.8,158.1 1416.4,159.2 1419.9,160.2 1423.4,161.3 1426.9,162.4 1430.4,163.6 1433.9,164.8 1437.4,166.0 1441.0,167.2 1444.5,168.5 1448.0,169.7 1451.5,171.0 1455.0,172.4 1458.5,173.7 1462.0,175.1 1465.5,176.5 1469.1,177.9 1472.6,179.4 1476.1,180.8 1479.6,182.3 1483.1,183.8 1486.6,185.3 1490.1,186.9 1493.7,188.4 1497.2,190.0 1500.7,191.6 1504.2,193.2 1507.7,194.8 1511.2,196.4 1514.7,198.1 1518.2,199.7 1521.8,201.4 1525.3,203.1 1528.8,204.8 1532.3,206.5 1535.8,208.2 1539.3,209.9 1542.8,211.7 1546.4,213.4 1549.9,215.2 1553.4,217.0 1556.9,218.8 1560.4,220.6 1563.9,222.4 1567.4,224.2 1570.9,226.0 1574.5,227.8 1578.0,229.7 1581.5,231.5 1585.0,233.4 1588.5,235.2 1592.0,237.1 1595.5,238.9 1599.1,240.8 1602.6,242.7 1606.1,244.6 1609.6,246.5 1613.1,248.4 1616.6,250.3 1620.1,252.2 1623.6,254.1 1627.2,256.0 1630.7,257.9 1634.2,259.9 1637.7,261.8 1641.2,263.7 1644.7,265.7 1648.2,267.6 1651.8,269.6 1655.3,271.5 1658.8,273.5 1662.3,275.4 1665.8,277.4 1669.3,279.4 1672.8,281.3 1676.3,283.3 1679.9,285.3 1683.4,287.2 1686.9,289.2 1690.4,291.2 1693.9,293.2 1697.4,295.2 1700.9,297.1 1704.5,299.1 1708.0,301.1 1711.5,303.1 1715.0,305.1 1718.5,307.1 1722.0,309.1 1725.5,311.1 1729.0,313.1 1732.6,315.1 1736.1,317.1 1739.6,319.1 1743.1,321.1 1746.6,323.1 1750.1,325.1 1753.6,327.1 1757.2,329.2 1760.7,331.2 1764.2,333.2 1767.7,335.2 1771.2,337.2 1774.7,339.2 1778.2,341.3 1781.7,343.3 1785.3,345.3 1788.8,347.3 1792.3,349.3 1795.8,351.4 1799.3,353.4 1802.8,355.4 1806.3,357.5 1809.9,359.5 1813.4,361.5 1816.9,363.5 1820.4,365.6 1823.9,367.6 1827.4,369.6 1830.9,371.7 1834.4,373.7 1838.0,375.7 1841.5,377.8 1845.0,379.8 1848.5,381.8 1852.0,383.9 1855.5,385.9 1859.0,387.9 1862.6,390.0 1866.1,392.0 1869.6,394.0 1873.1,396.1 1876.6,398.1 1880.1,400.2 1883.6,402.2 1887.1,404.2 1890.7,406.3 1894.2,408.3 1897.7,410.4 1901.2,412.4 1904.7,414.4 1908.2,416.5 1911.7,418.5 1915.3,420.6 1918.8,422.6 1922.3,424.7 1925.8,426.7 1929.3,428.8 1932.8,430.8 1936.3,432.8 1939.8,434.9 1943.4,436.9 1946.9,439.0 1950.4,441.0 1953.9,443.1 1957.4,445.1 1960.9,447.2 1964.4,449.2 1968.0,451.3 1971.5,453.3 1975.0,455.3 1978.5,457.4 1982.0,459.4 1985.5,461.5 1989.0,463.5 1992.5,465.6 1996.1,467.6 1999.6,469.7 2003.1,471.7 2006.6,473.8 2010.1,475.8 2013.6,477.9 2017.1,479.9 2020.7,482.0 2024.2,484.0 2027.7,486.1 2031.2,488.1 2034.7,490.2 2038.2,492.2 2041.7,494.3 2045.2,496.3 2048.8,498.4 2052.3,500.4 2055.8,502.5 2059.3,504.5 2062.8,506.6 2066.3,508.6 2069.8,510.7 2073.4,512.7 2076.9,514.8 2080.4,516.8 2083.9,518.9 2087.4,520.9 2090.9,523.0 2094.4,525.0 2097.9,527.1 2101.5,529.1 2105.0,531.2 2108.5,533.2 2112.0,535.3 2115.5,537.4 2119.0,539.4 2122.5,541.5 2126.1,543.5 2129.6,545.6 2133.1,547.6 2136.6,549.7 2140.1,551.7 2143.6,553.8 2147.1,555.8 2150.6,557.9 2154.2,559.9 2157.7,562.0 2161.2,564.0 2164.7,566.1 2168.2,568.1 2171.7,570.2 2175.2,572.2 2178.8,574.3 2182.3,576.4 2185.8,578.4 2189.3,580.5 2192.8,582.5 2196.3,584.6 2199.8,586.6 2203.3,588.7 2206.9,590.7 2210.4,592.8 2213.9,594.8 2217.4,596.9 2220.9,598.9 2224.4,601.0 2227.9,603.0 2231.5,605.1 2235.0,607.2 2238.5,609.2 2242.0,611.3 2245.5,613.3 2249.0,615.4 2252.5,617.4 2256.0,619.5 2259.6,621.5 2263.1,623.6 2266.6,625.6 2270.1,627.7 2273.6,629.7 2277.1,631.8 2280.6,633.9 2284.2,635.9 2287.7,638.0 2291.2,640.0 2294.7,642.1 2298.2,644.1 2301.7,646.2 2305.2,648.2 2308.7,650.3 2312.3,652.3 2315.8,654.4 2319.3,656.4 2322.8,658.5 2326.3,660.6 2329.8,662.6 2333.3,664.7 2336.9,666.7 2340.4,668.8 2343.9,670.8 2347.4,672.9 2350.9,674.9 2354.4,677.0 2357.9,679.0 2361.4,681.1 2365.0,683.2 2368.5,685.2 2372.0,687.3 2375.5,689.3" stroke="#10c84c" stroke-dasharray="49.5 10.44 25.5 10.44"/>
<polyline points="266.3,636.5 267.5,635.8 271.0,633.7 274.5,631.7 278.0,629.6 281.6,627.6 285.1,625.5 288.6,623.5 292.1,621.4 295.6,619.4 299.1,617.3 302.6,615.3 306.1,613.2 309.7,611.2 313.2,609.1 316.7,607.1 320.2,605.0 323.7,603.0 327.2,600.9 330.7,598.9 334.3,596.8 337.8,594.8 341.3,592.7 344.8,590.7 348.3,588.6 351.8,586.6 355.3,584.6 358.8,582.5 362.4,580.5 365.9,578.4 369.4,576.4 372.9,574.3 376.4,572.3 379.9,570.2 383.4,568.2 387.0,566.1 390.5,564.1 394.0,562.0 397.5,560.0 401.0,557.9 404.5,555.9 408.0,553.9 411.5,551.8 415.1,549.8 418.6,547.7 422.1,545.7 425.6,543.6 429.1,541.6 432.6,539.6 436.1,537.5 439.7,535.5 443.2,533.4 446.7,531.4 450.2,529.3 453.7,527.3 457.2,525.3 460.7,523.2 464.2,521.2 467.8,519.1 471.3,517.1 474.8,515.1 478.3,513.0 481.8,511.0 485.3,508.9 488.8,506.9 492.4,504.9 495.9,502.8 499.4,500.8 502.9,498.8 506.4,496.7 509.9,494.7 513.4,492.7 516.9,490.6 520.5,488.6 524.0,486.6 527.5,484.5 531.0,482.5 534.5,480.5 538.0,478.4 541.5,476.4 545.1,474.4 548.6,472.3 552.1,470.3 555.6,468.3 559.1,466.3 562.6,464.2 566.1,462.2 569.6,460.2 573.2,458.2 576.7,456.1 580.2,454.1 583.7,452.1 587.2,450.1 590.7,448.0 594.2,446.0 597.8,444.0 601.3,442.0 604.8,440.0 608.3,438.0 611.8,435.9 615.3,433.9 618.8,431.9 622.3,429.9 625.9,427.9 629.4,425.9 632.9,423.9 636.4,421.8 639.9,419.8 643.4,417.8 646.9,415.8 650.5,413.8 654.0,411.8 657.5,409.8 661.0,407.8 664.5,405.8 668.0,403.8 671.5,401.8 675.0,399.8 678.6,397.8 682.1,395.8 685.6,393.8 689.1,391.8 692.6,389.9 696.1,387.9 699.6,385.9 703.2,383.9 706.7,381.9 710.2,379.9 713.7,378.0 717.2,376.0 720.7,374.0 724.2,372.0 727.7,370.1 731.3,368.1 734.8,366.1 738.3,364.1 741.8,362.2 745.3,360.2 748.8,358.3 752.3,356.3 755.9,354.3 759.4,352.4 762.9,350.4 766.4,348.5 769.9,346.5 773.4,344.6 776.9,342.7 780.4,340.7 784.0,338.8 787.5,336.8 791.0,334.9 794.5,333.0 798.0,331.1 801.5,329.1 805.0,327.2 808.6,325.3 812.1,323.4 815.6,321.5 819.1,319.6 822.6,317.7 826.1,315.8 829.6,313.9 833.1,312.0 836.7,310.1 840.2,308.2 843.7,306.3 847.2,304.4 850.7,302.6 854.2,300.7 857.7,298.8 861.3,297.0 864.8,295.1 868.3,293.2 871.8,291.4 875.3,289.5 878.8,287.7 882.3,285.9 885.8,284.0 889.4,282.2 892.9,280.4 896.4,278.6 899.9,276.8 903.4,275.0 906.9,273.2 910.4,271.4 914.0,269.6 917.5,267.8 921.0,266.0 924.5,264.2 928.0,262.5 931.5,260.7 935.0,259.0 938.5,257.2 942.1,255.5 945.6,253.8 949.1,252.0 952.6,250.3 956.1,248.6 959.6,246.9 963.1,245.2 966.7,243.5 970.2,241.8 973.7,240.2 977.2,238.5 980.7,236.8 984.2,235.2 987.7,233.5 991.2,231.9 994.8,230.3 998.3,228.7 1001.8,227.1 1005.3,225.5 1008.8,223.9 1012.3,222.3 1015.8,220.8 1019.4,219.2 1022.9,217.7 1026.4,216.1 1029.9,214.6 1033.4,213.1 1036.9,211.6 1040.4,210.1 1043.9,208.6 1047.5,207.1 1051.0,205.7 1054.5,204.2 1058.0,202.8 1061.5,201.4 1065.0,200.0 1068.5,198.6 1072.1,197.2 1075.6,195.8 1079.1,194.5 1082.6,193.1 1086.1,191.8 1089.6,190.5 1093.1,189.2 1096.6,187.9 1100.2,186.6 1103.7,185.4 1107.2,184.1 1110.7,182.9 1114.2,181.7 1117.7,180.5 1121.2,179.3 1124.8,178.1 1128.3,177.0 1131.8,175.8 1135.3,174.7 1138.8,173.6 1142.3,172.5 1145.8,171.5 1149.3,170.4 1152.9,169.4 1156.4,168.4 1159.9,167.4 1163.4,166.4 1166.9,165.4 1170.4,164.5 1173.9,163.6 1177.5,162.7 1181.0,161.8 1184.5,160.9 1188.0,160.1 1191.5,159.3 1195.0,158.5 1198.5,157.7 1202.0,156.9 1205.6,156.2 1209.1,155.4 1212.6,154.7 1216.1,154.1 1219.6,153.4 1223.1,152.8 1226.6,152.1 1230.2,151.5 1233.7,151.0 1237.2,150.4 1240.7,149.9 1244.2,149.4 1247.7,148.9 1251.2,148.4 1254.7,148.0 1258.3,147.6 1261.8,147.2 1265.3,146.8 1268.8,146.5 1272.3,146.1 1275.8,145.8 1279.3,145.5 1282.9,145.3 1286.4,145.0 1289.9,144.8 1293.4,144.7 1296.9,144.5 1300.4,144.3 1303.9,144.2 1307.4,144.1 1311.0,144.1 1314.5,144.0 1318.0,144.0 1321.5,144.0 1325.0,144.0 1328.5,144.1 1332.0,144.2 1335.6,144.2 1339.1,144.4 1342.6,144.5 1346.1,144.7 1349.6,144.9 1353.1,145.1 1356.6,145.3 1360.1,145.6 1363.7,145.9 1367.2,146.2 1370.7,146.5 1374.2,146.9 1377.7,147.2 1381.2,147.6 1384.7,148.0 1388.3,148.5 1391.8,149.0 1395.3,149.4 1398.8,150.0 1402.3,150.5 1405.8,151.0 1409.3,151.6 1412.8,152.2 1416.4,152.8 1419.9,153.5 1423.4,154.1 1426.9,154.8 1430.4,155.5 1433.9,156.3 1437.4,157.0 1441.0,157.8 1444.5,158.6 1448.0,159.4 1451.5,160.2 1455.0,161.0 1458.5,161.9 1462.0,162.8 1465.5,163.7 1469.1,164.6 1472.6,165.6 1476.1,166.5 1479.6,167.5 1483.1,168.5 1486.6,169.5 1490.1,170.6 1493.7,171.6 1497.2,172.7 1500.7,173.8 1504.2,174.9 1507.7,176.0 1511.2,177.1 1514.7,178.3 1518.2,179.4 1521.8,180.6 1525.3,181.8 1528.8,183.0 1532.3,184.3 1535.8,185.5 1539.3,186.8 1542.8,188.1 1546.4,189.4 1549.9,190.7 1553.4,192.0 1556.9,193.3 1560.4,194.7 1563.9,196.0 1567.4,197.4 1570.9,198.8 1574.5,200.2 1578.0,201.6 1581.5,203.0 1585.0,204.4 1588.5,205.9 1592.0,207.3 1595.5,208.8 1599.1,210.3 1602.6,211.8 1606.1,213.3 1609.6,214.8 1613.1,216.3 1616.6,217.9 1620.1,219.4 1623.6,221.0 1627.2,222.5 1630.7,224.1 1634.2,225.7 1637.7,227.3 1641.2,228.9 1644.7,230.5 1648.2,232.1 1651.8,233.8 1655.3,235.4 1658.8,237.1 1662.3,238.7 1665.8,240.4 1669.3,242.1 1672.8,243.7 1676.3,245.4 1679.9,247.1 1683.4,248.8 1686.9,250.6 1690.4,252.3 1693.9,254.0 1697.4,255.7 1700.9,257.5 1704.5,259.2 1708.0,261.0 1711.5,262.7 1715.0,264.5 1718.5,266.3 1722.0,268.0 1725.5,269.8 1729.0,271.6 1732.6,273.4 1736.1,275.2 1739.6,277.0 1743.1,278.8 1746.6,280.6 1750.1,282.5 1753.6,284.3 1757.2,286.1 1760.7,288.0 1764.2,289.8 1767.7,291.7 1771.2,293.5 1774.7,295.4 1778.2,297.2 1781.7,299.1 1785.3,300.9 1788.8,302.8 1792.3,304.7 1795.8,306.6 1799.3,308.5 1802.8,310.3 1806.3,312.2 1809.9,314.1 1813.4,316.0 1816.9,317.9 1820.4,319.8 1823.9,321.7 1827.4,323.7 1830.9,325.6 1834.4,327.5 1838.0,329.4 1841.5,331.3 1845.0,333.3 1848.5,335.2 1852.0,337.1 1855.5,339.1 1859.0,341.0 1862.6,342.9 1866.1,344.9 1869.6,346.8 1873.1,348.8 1876.6,350.7 1880.1,352.7 1883.6,354.6 1887.1,356.6 1890.7,358.5 1894.2,360.5 1897.7,362.5 1901.2,364.4 1904.7,366.4 1908.2,368.4 1911.7,370.3 1915.3,372.3 1918.8,374.3 1922.3,376.3 1925.8,378.2 1929.3,380.2 1932.8,382.2 1936.3,384.2 1939.8,386.2 1943.4,388.2 1946.9,390.1 1950.4,392.1 1953.9,394.1 1957.4,396.1 1960.9,398.1 1964.4,400.1 1968.0,402.1 1971.5,404.1 1975.0,406.1 1978.5,408.1 1982.0,410.1 1985.5,412.1 1989.0,414.1 1992.5,416.1 1996.1,418.1 1999.6,420.1 2003.1,422.1 2006.6,424.1 2010.1,426.1 2013.6,428.2 2017.1,430.2 2020.7,432.2 2024.2,434.2 2027.7,436.2 2031.2,438.2 2034.7,440.2 2038.2,442.3 2041.7,444.3 2045.2,446.3 2048.8,448.3 2052.3,450.3 2055.8,452.4 2059.3,454.4 2062.8,456.4 2066.3,458.4 2069.8,460.5 2073.4,462.5 2076.9,464.5 2080.4,466.5 2083.9,468.6 2087.4,470.6 2090.9,472.6 2094.4,474.7 2097.9,476.7 2101.5,478.7 2105.0,480.7 2108.5,482.8 2112.0,484.8 2115.5,486.8 2119.0,488.9 2122.5,490.9 2126.1,492.9 2129.6,495.0 2133.1,497.0 2136.6,499.0 2140.1,501.1 2143.6,503.1 2147.1,505.2 2150.6,507.2 2154.2,509.2 2157.7,511.3 2161.2,513.3 2164.7,515.3 2168.2,517.4 2171.7,519.4 2175.2,521.5 2178.8,523.5 2182.3,525.5 2185.8,527.6 2189.3,529.6 2192.8,531.7 2196.3,533.7 2199.8,535.8 2203.3,537.8 2206.9,539.8 2210.4,541.9 2213.9,543.9 2217.4,546.0 2220.9,548.0 2224.4,550.1 2227.9,552.1 2231.5,554.1 2235.0,556.2 2238.5,558.2 2242.0,560.3 2245.5,562.3 2249.0,564.4 2252.5,566.4 2256.0,568.5 2259.6,570.5 2263.1,572.6 2266.6,574.6 2270.1,576.6 2273.6,578.7 2277.1,580.7 2280.6,582.8 2284.2,584.8 2287.7,586.9 2291.2,588.9 2294.7,591.0 2298.2,593.0 2301.7,595.1 2305.2,597.1 2308.7,599.2 2312.3,601.2 2315.8,603.3 2319.3,605.3 2322.8,607.4 2326.3,609.4 2329.8,611.5 2333.3,613.5 2336.9,615.6 2340.4,617.6 2343.9,619.7 2347.4,621.7 2350.9,623.8 2354.4,625.8 2357.9,627.9 2361.4,629.9 2365.0,632.0 2368.5,634.0 2372.0,636.1 2375.5,638.1" stroke="#ff00ff" stroke-dasharray="49.5 46.38"/>
<polyline points="266.3,1042.0 267.5,1042.0 271.0,1042.1 274.5,1042.2 278.0,1042.3 281.6,1042.4 285.1,1042.6 288.6,1042.7 292.1,1042.8 295.6,1042.9 299.1,1043.0 302.6,1043.1 306.1,1043.2 309.7,1043.4 313.2,1043.5 316.7,1043.6 320.2,1043.7 323.7,1043.8 327.2,1044.0 330.7,1044.1 334.3,1044.2 337.8,1044.4 341.3,1044.5 344.8,1044.6 348.3,1044.7 351.8,1044.9 355.3,1045.0 358.8,1045.2 362.4,1045.3 365.9,1045.4 369.4,1045.6 372.9,1045.7 376.4,1045.9 379.9,1046.0 383.4,1046.2 387.0,1046.3 390.5,1046.5 394.0,1046.6 397.5,1046.8 401.0,1047.0 404.5,1047.1 408.0,1047.3 411.5,1047.5 415.1,1047.6 418.6,1047.8 422.1,1048.0 425.6,1048.1 429.1,1048.3 432.6,1048.5 436.1,1048.7 439.7,1048.8 443.2,1049.0 446.7,1049.2 450.2,1049.4 453.7,1049.6 457.2,1049.8 460.7,1050.0 464.2,1050.2 467.8,1050.4 471.3,1050.6 474.8,1050.8 478.3,1051.0 481.8,1051.2 485.3,1051.4 488.8,1051.6 492.4,1051.8 495.9,1052.1 499.4,1052.3 502.9,1052.5 506.4,1052.7 509.9,1052.9 513.4,1053.2 516.9,1053.4 520.5,1053.6 524.0,1053.9 527.5,1054.1 531.0,1054.4 534.5,1054.6 538.0,1054.9 541.5,1055.1 545.1,1055.4 548.6,1055.6 552.1,1055.9 555.6,1056.2 559.1,1056.4 562.6,1056.7 566.1,1057.0 569.6,1057.3 573.2,1057.5 576.7,1057.8 580.2,1058.1 583.7,1058.4 587.2,1058.7 590.7,1059.0 594.2,1059.3 597.8,1059.6 601.3,1059.9 604.8,1060.2 608.3,1060.5 611.8,1060.8 615.3,1061.2 618.8,1061.5 622.3,1061.8 625.9,1062.2 629.4,1062.5 632.9,1062.8 636.4,1063.2 639.9,1063.5 643.4,1063.9 646.9,1064.2 650.5,1064.6 654.0,1065.0 657.5,1065.3 661.0,1065.7 664.5,1066.1 668.0,1066.5 671.5,1066.9 675.0,1067.2 678.6,1067.6 682.1,1068.0 685.6,1068.4 689.1,1068.9 692.6,1069.3 696.1,1069.7 699.6,1070.1 703.2,1070.5 706.7,1071.0 710.2,1071.4 713.7,1071.9 717.2,1072.3 720.7,1072.8 724.2,1073.2 727.7,1073.7 731.3,1074.2 734.8,1074.6 738.3,1075.1 741.8,1075.6 745.3,1076.1 748.8,1076.6 752.3,1077.1 755.9,1077.6 759.4,1078.1 762.9,1078.6 766.4,1079.2 769.9,1079.7 773.4,1080.2 776.9,1080.8 780.4,1081.3 784.0,1081.9 787.5,1082.4 791.0,1083.0 794.5,1083.6 798.0,1084.2 801.5,1084.8 805.0,1085.4 808.6,1086.0 812.1,1086.6 815.6,1087.2 819.1,1087.8 822.6,1088.4 826.1,1089.1 829.6,1089.7 833.1,1090.4 836.7,1091.0 840.2,1091.7 843.7,1092.4 847.2,1093.1 850.7,1093.8 854.2,1094.5 857.7,1095.2 861.3,1095.9 864.8,1096.6 868.3,1097.4 871.8,1098.1 875.3,1098.8 878.8,1099.6 882.3,1100.4 885.8,1101.1 889.4,1101.9 892.9,1102.7 896.4,1103.5 899.9,1104.3 903.4,1105.2 906.9,1106.0 910.4,1106.8 914.0,1107.7 917.5,1108.5 921.0,1109.4 924.5,1110.3 928.0,1111.2 931.5,1112.1 935.0,1113.0 938.5,1113.9 942.1,1114.8 945.6,1115.8 949.1,1116.7 952.6,1117.7 956.1,1118.7 959.6,1119.7 963.1,1120.7 966.7,1121.7 970.2,1122.7 973.7,1123.7 977.2,1124.8 980.7,1125.8 984.2,1126.9 987.7,1128.0 991.2,1129.1 994.8,1130.2 998.3,1131.3 1001.8,1132.5 1005.3,1133.6 1008.8,1134.8 1012.3,1136.0 1015.8,1137.2 1019.4,1138.4 1022.9,1139.6 1026.4,1140.8 1029.9,1142.1 1033.4,1143.3 1036.9,1144.6 1040.4,1145.9 1043.9,1147.2 1047.5,1148.6 1051.0,1149.9 1054.5,1151.3 1058.0,1152.7 1061.5,1154.1 1065.0,1155.5 1068.5,1156.9 1072.1,1158.4 1075.6,1159.9 1079.1,1161.4 1082.6,1162.9 1086.1,1164.4 1089.6,1166.0 1093.1,1167.6 1096.6,1169.2 1100.2,1170.8 1103.7,1172.5 1107.2,1174.2 1110.7,1175.9 1114.2,1177.6 1117.7,1179.3 1121.2,1181.1 1124.8,1182.9 1128.3,1184.8 1131.8,1186.7 1135.3,1188.6 1138.8,1190.5 1142.3,1192.5 1145.8,1194.5 1149.3,1196.5 1152.9,1198.6 1156.4,1200.7 1159.9,1202.8 1163.4,1205.0 1166.9,1207.3 1170.4,1209.5 1173.9,1211.9 1177.5,1214.2 1181.0,1216.7 1184.5,1219.1 1188.0,1221.7 1191.5,1224.3 1195.0,1226.9 1198.5,1229.7 1202.0,1232.4 1205.6,1235.3 1209.1,1238.2 1212.6,1241.2 1216.1,1244.3 1219.6,1247.5 1223.1,1250.8 1226.6,1254.1 1230.2,1257.6 1233.7,1261.1 1237.2,1264.8 1240.7,1268.6 1244.2,1272.5 1247.7,1276.5 1251.2,1280.7 1254.7,1285.0 1258.3,1289.4 1261.8,1294.0 1265.3,1298.7 1268.8,1303.6 1272.3,1308.6 1275.8,1313.8 1279.3,1319.1 1282.9,1324.6 1286.4,1330.2 1289.9,1336.0 1293.4,1341.9 1296.9,1348.0 1300.4,1354.1 1303.9,1360.4 1307.4,1366.8 1311.0,1373.2 1314.5,1379.7 1318.0,1386.2 1321.5,1392.7 1325.0,1399.2 1328.5,1405.7 1332.0,1412.1 1335.6,1418.5 1339.1,1424.7 1342.6,1430.9 1346.1,1436.9 1349.6,1442.8 1353.1,1448.6 1356.6,1454.2 1360.1,1459.7 1363.7,1465.0 1367.2,1470.1 1370.7,1475.1 1374.2,1480.0 1377.7,1484.7 1381.2,1489.2 1384.7,1493.6 1388.3,1497.9 1391.8,1502.0 1395.3,1506.1 1398.8,1509.9 1402.3,1513.7 1405.8,1517.4 1409.3,1520.9 1412.8,1524.4 1416.4,1527.7 1419.9,1531.0 1423.4,1534.1 1426.9,1537.2 1430.4,1540.2 1433.9,1543.1 1437.4,1546.0 1441.0,1548.7 1444.5,1551.4 1448.0,1554.1 1451.5,1556.7 1455.0,1559.2 1458.5,1561.7 1462.0,1564.1 1465.5,1566.5 1469.1,1568.8 1472.6,1571.1 1476.1,1573.3 1479.6,1575.5 1483.1,1577.6 1486.6,1579.7 1490.1,1581.8 1493.7,1583.8 1497.2,1585.8 1500.7,1587.8 1504.2,1589.7 1507.7,1591.6 1511.2,1593.5 1514.7,1595.3 1518.2,1597.1 1521.8,1598.9 1525.3,1600.7 1528.8,1602.4 1532.3,1604.1 1535.8,1605.8 1539.3,1607.4 1542.8,1609.0 1546.4,1610.6 1549.9,1612.2 1553.4,1613.8 1556.9,1615.3 1560.4,1616.8 1563.9,1618.3 1567.4,1619.8 1570.9,1621.3 1574.5,1622.7 1578.0,1624.1 1581.5,1625.5 1585.0,1626.9 1588.5,1628.3 1592.0,1629.6 1595.5,1630.9 1599.1,1632.3 1602.6,1633.6 1606.1,1634.8 1609.6,1636.1 1613.1,1637.3 1616.6,1638.6 1620.1,1639.8 1623.6,1641.0 1627.2,1642.2 1630.7,1643.4 1634.2,1644.5 1637.7,1645.7 1641.2,1646.8 1644.7,1647.9 1648.2,1649.1 1651.8,1650.2 1655.3,1651.2 1658.8,1652.3 1662.3,1653.4 1665.8,1654.4 1669.3,1655.4 1672.8,1656.5 1676.3,1657.5 1679.9,1658.5 1683.4,1659.5 1686.9,1660.4 1690.4,1661.4 1693.9,1662.3 1697.4,1663.3 1700.9,1664.2 1704.5,1665.1 1708.0,1666.0 1711.5,1666.9 1715.0,1667.8 1718.5,1668.7 1722.0,1669.6 1725.5,1670.4 1729.0,1671.3 1732.6,1672.1 1736.1,1673.0 1739.6,1673.8 1743.1,1674.6 1746.6,1675.4 1750.1,1676.2 1753.6,1677.0 1757.2,1677.7 1760.7,1678.5 1764.2,1679.3 1767.7,1680.0 1771.2,1680.7 1774.7,1681.5 1778.2,1682.2 1781.7,1682.9 1785.3,1683.6 1788.8,1684.3 1792.3,1685.0 1795.8,1685.7 1799.3,1686.4 1802.8,1687.0 1806.3,1687.7 1809.9,1688.4 1813.4,1689.0 1816.9,1689.6 1820.4,1690.3 1823.9,1690.9 1827.4,1691.5 1830.9,1692.1 1834.4,1692.7 1838.0,1693.3 1841.5,1693.9 1845.0,1694.5 1848.5,1695.1 1852.0,1695.6 1855.5,1696.2 1859.0,1696.8 1862.6,1697.3 1866.1,1697.8 1869.6,1698.4 1873.1,1698.9 1876.6,1699.4 1880.1,1700.0 1883.6,1700.5 1887.1,1701.0 1890.7,1701.5 1894.2,1702.0 1897.7,1702.5 1901.2,1703.0 1904.7,1703.4 1908.2,1703.9 1911.7,1704.4 1915.3,1704.8 1918.8,1705.3 1922.3,1705.8 1925.8,1706.2 1929.3,1706.6 1932.8,1707.1 1936.3,1707.5 1939.8,1707.9 1943.4,1708.4 1946.9,1708.8 1950.4,1709.2 1953.9,1709.6 1957.4,1710.0 1960.9,1710.4 1964.4,1710.8 1968.0,1711.2 1971.5,1711.6 1975.0,1712.0 1978.5,1712.3 1982.0,1712.7 1985.5,1713.1 1989.0,1713.5 1992.5,1713.8 1996.1,1714.2 1999.6,1714.5 2003.1,1714.9 2006.6,1715.2 2010.1,1715.6 2013.6,1715.9 2017.1,1716.2 2020.7,1716.6 2024.2,1716.9 2027.7,1717.2 2031.2,1717.5 2034.7,1717.8 2038.2,1718.1 2041.7,1718.4 2045.2,1718.8 2048.8,1719.1 2052.3,1719.3 2055.8,1719.6 2059.3,1719.9 2062.8,1720.2 2066.3,1720.5 2069.8,1720.8 2073.4,1721.1 2076.9,1721.3 2080.4,1721.6 2083.9,1721.9 2087.4,1722.1 2090.9,1722.4 2094.4,1722.7 2097.9,1722.9 2101.5,1723.2 2105.0,1723.4 2108.5,1723.7 2112.0,1723.9 2115.5,1724.1 2119.0,1724.4 2122.5,1724.6 2126.1,1724.9 2129.6,1725.1 2133.1,1725.3 2136.6,1725.5 2140.1,1725.8 2143.6,1726.0 2147.1,1726.2 2150.6,1726.4 2154.2,1726.6 2157.7,1726.8 2161.2,1727.0 2164.7,1727.2 2168.2,1727.5 2171.7,1727.7 2175.2,1727.9 2178.8,1728.0 2182.3,1728.2 2185.8,1728.4 2189.3,1728.6 2192.8,1728.8 2196.3,1729.0 2199.8,1729.2 2203.3,1729.4 2206.9,1729.5 2210.4,1729.7 2213.9,1729.9 2217.4,1730.1 2220.9,1730.2 2224.4,1730.4 2227.9,1730.6 2231.5,1730.7 2235.0,1730.9 2238.5,1731.1 2242.0,1731.2 2245.5,1731.4 2249.0,1731.5 2252.5,1731.7 2256.0,1731.8 2259.6,1732.0 2263.1,1732.1 2266.6,1732.3 2270.1,1732.4 2273.6,1732.6 2277.1,1732.7 2280.6,1732.9 2284.2,1733.0 2287.7,1733.1 2291.2,1733.3 2294.7,1733.4 2298.2,1733.5 2301.7,1733.7 2305.2,1733.8 2308.7,1733.9 2312.3,1734.1 2315.8,1734.2 2319.3,1734.3 2322.8,1734.4 2326.3,1734.5 2329.8,1734.7 2333.3,1734.8 2336.9,1734.9 2340.4,1735.0 2343.9,1735.1 2347.4,1735.2 2350.9,1735.4 2354.4,1735.5 2357.9,1735.6 2361.4,1735.7 2365.0,1735.8 2368.5,1735.9 2372.0,1736.0 2375.5,1736.1" stroke="#0000ff" stroke-dasharray="13.3 10.67"/>
<polyline points="266.3,1043.8 267.5,1043.8 271.0,1043.9 274.5,1044.1 278.0,1044.2 281.6,1044.3 285.1,1044.5 288.6,1044.6 292.1,1044.7 295.6,1044.9 299.1,1045.0 302.6,1045.1 306.1,1045.3 309.7,1045.4 313.2,1045.6 316.7,1045.7 320.2,1045.9 323.7,1046.0 327.2,1046.2 330.7,1046.3 334.3,1046.5 337.8,1046.6 341.3,1046.8 344.8,1046.9 348.3,1047.1 351.8,1047.3 355.3,1047.4 358.8,1047.6 362.4,1047.8 365.9,1047.9 369.4,1048.1 372.9,1048.3 376.4,1048.5 379.9,1048.6 383.4,1048.8 387.0,1049.0 390.5,1049.2 394.0,1049.4 397.5,1049.6 401.0,1049.8 404.5,1050.0 408.0,1050.2 411.5,1050.3 415.1,1050.5 418.6,1050.8 422.1,1051.0 425.6,1051.2 429.1,1051.4 432.6,1051.6 436.1,1051.8 439.7,1052.0 443.2,1052.2 446.7,1052.5 450.2,1052.7 453.7,1052.9 457.2,1053.1 460.7,1053.4 464.2,1053.6 467.8,1053.9 471.3,1054.1 474.8,1054.3 478.3,1054.6 481.8,1054.8 485.3,1055.1 488.8,1055.3 492.4,1055.6 495.9,1055.9 499.4,1056.1 502.9,1056.4 506.4,1056.7 509.9,1056.9 513.4,1057.2 516.9,1057.5 520.5,1057.8 524.0,1058.1 527.5,1058.4 531.0,1058.7 534.5,1059.0 538.0,1059.3 541.5,1059.6 545.1,1059.9 548.6,1060.2 552.1,1060.5 555.6,1060.8 559.1,1061.1 562.6,1061.5 566.1,1061.8 569.6,1062.1 573.2,1062.5 576.7,1062.8 580.2,1063.1 583.7,1063.5 587.2,1063.9 590.7,1064.2 594.2,1064.6 597.8,1064.9 601.3,1065.3 604.8,1065.7 608.3,1066.1 611.8,1066.4 615.3,1066.8 618.8,1067.2 622.3,1067.6 625.9,1068.0 629.4,1068.4 632.9,1068.8 636.4,1069.2 639.9,1069.7 643.4,1070.1 646.9,1070.5 650.5,1071.0 654.0,1071.4 657.5,1071.8 661.0,1072.3 664.5,1072.7 668.0,1073.2 671.5,1073.7 675.0,1074.1 678.6,1074.6 682.1,1075.1 685.6,1075.6 689.1,1076.1 692.6,1076.6 696.1,1077.1 699.6,1077.6 703.2,1078.1 706.7,1078.6 710.2,1079.2 713.7,1079.7 717.2,1080.2 720.7,1080.8 724.2,1081.3 727.7,1081.9 731.3,1082.5 734.8,1083.0 738.3,1083.6 741.8,1084.2 745.3,1084.8 748.8,1085.4 752.3,1086.0 755.9,1086.6 759.4,1087.2 762.9,1087.9 766.4,1088.5 769.9,1089.1 773.4,1089.8 776.9,1090.5 780.4,1091.1 784.0,1091.8 787.5,1092.5 791.0,1093.2 794.5,1093.9 798.0,1094.6 801.5,1095.3 805.0,1096.0 808.6,1096.7 812.1,1097.5 815.6,1098.2 819.1,1099.0 822.6,1099.7 826.1,1100.5 829.6,1101.3 833.1,1102.1 836.7,1102.9 840.2,1103.7 843.7,1104.5 847.2,1105.4 850.7,1106.2 854.2,1107.0 857.7,1107.9 861.3,1108.8 864.8,1109.6 868.3,1110.5 871.8,1111.4 875.3,1112.3 878.8,1113.3 882.3,1114.2 885.8,1115.1 889.4,1116.1 892.9,1117.1 896.4,1118.0 899.9,1119.0 903.4,1120.0 906.9,1121.0 910.4,1122.1 914.0,1123.1 917.5,1124.1 921.0,1125.2 924.5,1126.3 928.0,1127.4 931.5,1128.5 935.0,1129.6 938.5,1130.7 942.1,1131.8 945.6,1133.0 949.1,1134.1 952.6,1135.3 956.1,1136.5 959.6,1137.7 963.1,1138.9 966.7,1140.2 970.2,1141.4 973.7,1142.7 977.2,1144.0 980.7,1145.3 984.2,1146.6 987.7,1147.9 991.2,1149.2 994.8,1150.6 998.3,1152.0 1001.8,1153.4 1005.3,1154.8 1008.8,1156.2 1012.3,1157.6 1015.8,1159.1 1019.4,1160.6 1022.9,1162.1 1026.4,1163.6 1029.9,1165.1 1033.4,1166.7 1036.9,1168.3 1040.4,1169.9 1043.9,1171.5 1047.5,1173.1 1051.0,1174.7 1054.5,1176.4 1058.0,1178.1 1061.5,1179.8 1065.0,1181.6 1068.5,1183.3 1072.1,1185.1 1075.6,1186.9 1079.1,1188.7 1082.6,1190.6 1086.1,1192.5 1089.6,1194.4 1093.1,1196.3 1096.6,1198.2 1100.2,1200.2 1103.7,1202.2 1107.2,1204.3 1110.7,1206.3 1114.2,1208.4 1117.7,1210.5 1121.2,1212.6 1124.8,1214.8 1128.3,1217.0 1131.8,1219.2 1135.3,1221.5 1138.8,1223.8 1142.3,1226.1 1145.8,1228.4 1149.3,1230.8 1152.9,1233.2 1156.4,1235.7 1159.9,1238.2 1163.4,1240.7 1166.9,1243.2 1170.4,1245.8 1173.9,1248.4 1177.5,1251.1 1181.0,1253.8 1184.5,1256.5 1188.0,1259.3 1191.5,1262.1 1195.0,1264.9 1198.5,1267.8 1202.0,1270.7 1205.6,1273.7 1209.1,1276.7 1212.6,1279.7 1216.1,1282.8 1219.6,1285.9 1223.1,1289.1 1226.6,1292.3 1230.2,1295.6 1233.7,1298.8 1237.2,1302.2 1240.7,1305.5 1244.2,1308.9 1247.7,1312.4 1251.2,1315.8 1254.7,1319.3 1258.3,1322.9 1261.8,1326.5 1265.3,1330.1 1268.8,1333.8 1272.3,1337.4 1275.8,1341.1 1279.3,1344.9 1282.9,1348.7 1286.4,1352.4 1289.9,1356.3 1293.4,1360.1 1296.9,1363.9 1300.4,1367.8 1303.9,1371.7 1307.4,1375.6 1311.0,1379.5 1314.5,1383.4 1318.0,1387.3 1321.5,1391.2 1325.0,1395.1 1328.5,1399.1 1332.0,1403.0 1335.6,1406.8 1339.1,1410.7 1342.6,1414.6 1346.1,1418.4 1349.6,1422.3 1353.1,1426.1 1356.6,1429.9 1360.1,1433.6 1363.7,1437.4 1367.2,1441.1 1370.7,1444.8 1374.2,1448.4 1377.7,1452.0 1381.2,1455.6 1384.7,1459.1 1388.3,1462.7 1391.8,1466.1 1395.3,1469.6 1398.8,1473.0 1402.3,1476.3 1405.8,1479.6 1409.3,1482.9 1412.8,1486.1 1416.4,1489.3 1419.9,1492.5 1423.4,1495.6 1426.9,1498.7 1430.4,1501.7 1433.9,1504.7 1437.4,1507.7 1441.0,1510.6 1444.5,1513.5 1448.0,1516.3 1451.5,1519.1 1455.0,1521.9 1458.5,1524.6 1462.0,1527.3 1465.5,1529.9 1469.1,1532.6 1472.6,1535.1 1476.1,1537.7 1479.6,1540.2 1483.1,1542.7 1486.6,1545.1 1490.1,1547.5 1493.7,1549.9 1497.2,1552.2 1500.7,1554.6 1504.2,1556.8 1507.7,1559.1 1511.2,1561.3 1514.7,1563.5 1518.2,1565.7 1521.8,1567.8 1525.3,1569.9 1528.8,1572.0 1532.3,1574.0 1535.8,1576.1 1539.3,1578.1 1542.8,1580.0 1546.4,1582.0 1549.9,1583.9 1553.4,1585.8 1556.9,1587.7 1560.4,1589.5 1563.9,1591.3 1567.4,1593.1 1570.9,1594.9 1574.5,1596.7 1578.0,1598.4 1581.5,1600.1 1585.0,1601.8 1588.5,1603.5 1592.0,1605.1 1595.5,1606.8 1599.1,1608.4 1602.6,1610.0 1606.1,1611.5 1609.6,1613.1 1613.1,1614.6 1616.6,1616.1 1620.1,1617.6 1623.6,1619.1 1627.2,1620.6 1630.7,1622.0 1634.2,1623.4 1637.7,1624.8 1641.2,1626.2 1644.7,1627.6 1648.2,1629.0 1651.8,1630.3 1655.3,1631.6 1658.8,1632.9 1662.3,1634.2 1665.8,1635.5 1669.3,1636.8 1672.8,1638.0 1676.3,1639.2 1679.9,1640.5 1683.4,1641.7 1686.9,1642.9 1690.4,1644.0 1693.9,1645.2 1697.4,1646.3 1700.9,1647.5 1704.5,1648.6 1708.0,1649.7 1711.5,1650.8 1715.0,1651.9 1718.5,1653.0 1722.0,1654.0 1725.5,1655.1 1729.0,1656.1 1732.6,1657.1 1736.1,1658.1 1739.6,1659.1 1743.1,1660.1 1746.6,1661.1 1750.1,1662.0 1753.6,1663.0 1757.2,1663.9 1760.7,1664.9 1764.2,1665.8 1767.7,1666.7 1771.2,1667.6 1774.7,1668.5 1778.2,1669.4 1781.7,1670.2 1785.3,1671.1 1788.8,1671.9 1792.3,1672.8 1795.8,1673.6 1799.3,1674.4 1802.8,1675.2 1806.3,1676.0 1809.9,1676.8 1813.4,1677.6 1816.9,1678.4 1820.4,1679.1 1823.9,1679.9 1827.4,1680.6 1830.9,1681.4 1834.4,1682.1 1838.0,1682.8 1841.5,1683.5 1845.0,1684.2 1848.5,1684.9 1852.0,1685.6 1855.5,1686.3 1859.0,1687.0 1862.6,1687.6 1866.1,1688.3 1869.6,1688.9 1873.1,1689.6 1876.6,1690.2 1880.1,1690.8 1883.6,1691.5 1887.1,1692.1 1890.7,1692.7 1894.2,1693.3 1897.7,1693.9 1901.2,1694.5 1904.7,1695.0 1908.2,1695.6 1911.7,1696.2 1915.3,1696.7 1918.8,1697.3 1922.3,1697.8 1925.8,1698.4 1929.3,1698.9 1932.8,1699.4 1936.3,1700.0 1939.8,1700.5 1943.4,1701.0 1946.9,1701.5 1950.4,1702.0 1953.9,1702.5 1957.4,1703.0 1960.9,1703.4 1964.4,1703.9 1968.0,1704.4 1971.5,1704.9 1975.0,1705.3 1978.5,1705.8 1982.0,1706.2 1985.5,1706.7 1989.0,1707.1 1992.5,1707.5 1996.1,1708.0 1999.6,1708.4 2003.1,1708.8 2006.6,1709.2 2010.1,1709.6 2013.6,1710.0 2017.1,1710.4 2020.7,1710.8 2024.2,1711.2 2027.7,1711.6 2031.2,1712.0 2034.7,1712.4 2038.2,1712.7 2041.7,1713.1 2045.2,1713.5 2048.8,1713.8 2052.3,1714.2 2055.8,1714.6 2059.3,1714.9 2062.8,1715.2 2066.3,1715.6 2069.8,1715.9 2073.4,1716.3 2076.9,1716.6 2080.4,1716.9 2083.9,1717.2 2087.4,1717.5 2090.9,1717.9 2094.4,1718.2 2097.9,1718.5 2101.5,1718.8 2105.0,1719.1 2108.5,1719.4 2112.0,1719.7 2115.5,1720.0 2119.0,1720.3 2122.5,1720.5 2126.1,1720.8 2129.6,1721.1 2133.1,1721.4 2136.6,1721.6 2140.1,1721.9 2143.6,1722.2 2147.1,1722.4 2150.6,1722.7 2154.2,1722.9 2157.7,1723.2 2161.2,1723.4 2164.7,1723.7 2168.2,1723.9 2171.7,1724.2 2175.2,1724.4 2178.8,1724.6 2182.3,1724.9 2185.8,1725.1 2189.3,1725.3 2192.8,1725.6 2196.3,1725.8 2199.8,1726.0 2203.3,1726.2 2206.9,1726.4 2210.4,1726.7 2213.9,1726.9 2217.4,1727.1 2220.9,1727.3 2224.4,1727.5 2227.9,1727.7 2231.5,1727.9 2235.0,1728.1 2238.5,1728.3 2242.0,1728.5 2245.5,1728.6 2249.0,1728.8 2252.5,1729.0 2256.0,1729.2 2259.6,1729.4 2263.1,1729.6 2266.6,1729.7 2270.1,1729.9 2273.6,1730.1 2277.1,1730.3 2280.6,1730.4 2284.2,1730.6 2287.7,1730.8 2291.2,1730.9 2294.7,1731.1 2298.2,1731.2 2301.7,1731.4 2305.2,1731.6 2308.7,1731.7 2312.3,1731.9 2315.8,1732.0 2319.3,1732.2 2322.8,1732.3 2326.3,1732.5 2329.8,1732.6 2333.3,1732.7 2336.9,1732.9 2340.4,1733.0 2343.9,1733.2 2347.4,1733.3 2350.9,1733.4 2354.4,1733.6 2357.9,1733.7 2361.4,1733.8 2365.0,1733.9 2368.5,1734.1 2372.0,1734.2 2375.5,1734.3" stroke="#ff0000"/>
<polyline points="266.3,1045.6 267.5,1045.6 271.0,1045.8 274.5,1045.9 278.0,1046.1 281.6,1046.2 285.1,1046.4 288.6,1046.5 292.1,1046.7 295.6,1046.8 299.1,1047.0 302.6,1047.2 306.1,1047.3 309.7,1047.5 313.2,1047.7 316.7,1047.8 320.2,1048.0 323.7,1048.2 327.2,1048.4 330.7,1048.5 334.3,1048.7 337.8,1048.9 341.3,1049.1 344.8,1049.3 348.3,1049.4 351.8,1049.6 355.3,1049.8 358.8,1050.0 362.4,1050.2 365.9,1050.4 369.4,1050.6 372.9,1050.8 376.4,1051.0 379.9,1051.2 383.4,1051.5 387.0,1051.7 390.5,1051.9 394.0,1052.1 397.5,1052.3 401.0,1052.5 404.5,1052.8 408.0,1053.0 411.5,1053.2 415.1,1053.5 418.6,1053.7 422.1,1053.9 425.6,1054.2 429.1,1054.4 432.6,1054.7 436.1,1054.9 439.7,1055.2 443.2,1055.4 446.7,1055.7 450.2,1056.0 453.7,1056.2 457.2,1056.5 460.7,1056.8 464.2,1057.0 467.8,1057.3 471.3,1057.6 474.8,1057.9 478.3,1058.2 481.8,1058.5 485.3,1058.8 488.8,1059.1 492.4,1059.4 495.9,1059.7 499.4,1060.0 502.9,1060.3 506.4,1060.6 509.9,1060.9 513.4,1061.3 516.9,1061.6 520.5,1061.9 524.0,1062.2 527.5,1062.6 531.0,1062.9 534.5,1063.3 538.0,1063.6 541.5,1064.0 545.1,1064.3 548.6,1064.7 552.1,1065.1 555.6,1065.4 559.1,1065.8 562.6,1066.2 566.1,1066.6 569.6,1067.0 573.2,1067.4 576.7,1067.7 580.2,1068.2 583.7,1068.6 587.2,1069.0 590.7,1069.4 594.2,1069.8 597.8,1070.2 601.3,1070.7 604.8,1071.1 608.3,1071.5 611.8,1072.0 615.3,1072.4 618.8,1072.9 622.3,1073.3 625.9,1073.8 629.4,1074.3 632.9,1074.8 636.4,1075.2 639.9,1075.7 643.4,1076.2 646.9,1076.7 650.5,1077.2 654.0,1077.7 657.5,1078.3 661.0,1078.8 664.5,1079.3 668.0,1079.9 671.5,1080.4 675.0,1080.9 678.6,1081.5 682.1,1082.1 685.6,1082.6 689.1,1083.2 692.6,1083.8 696.1,1084.4 699.6,1085.0 703.2,1085.6 706.7,1086.2 710.2,1086.8 713.7,1087.4 717.2,1088.0 720.7,1088.7 724.2,1089.3 727.7,1089.9 731.3,1090.6 734.8,1091.3 738.3,1091.9 741.8,1092.6 745.3,1093.3 748.8,1094.0 752.3,1094.7 755.9,1095.4 759.4,1096.1 762.9,1096.9 766.4,1097.6 769.9,1098.3 773.4,1099.1 776.9,1099.9 780.4,1100.6 784.0,1101.4 787.5,1102.2 791.0,1103.0 794.5,1103.8 798.0,1104.6 801.5,1105.4 805.0,1106.3 808.6,1107.1 812.1,1108.0 815.6,1108.8 819.1,1109.7 822.6,1110.6 826.1,1111.5 829.6,1112.4 833.1,1113.3 836.7,1114.2 840.2,1115.2 843.7,1116.1 847.2,1117.1 850.7,1118.0 854.2,1119.0 857.7,1120.0 861.3,1121.0 864.8,1122.0 868.3,1123.0 871.8,1124.1 875.3,1125.1 878.8,1126.2 882.3,1127.2 885.8,1128.3 889.4,1129.4 892.9,1130.5 896.4,1131.6 899.9,1132.7 903.4,1133.9 906.9,1135.0 910.4,1136.2 914.0,1137.4 917.5,1138.6 921.0,1139.8 924.5,1141.0 928.0,1142.3 931.5,1143.5 935.0,1144.8 938.5,1146.0 942.1,1147.3 945.6,1148.6 949.1,1150.0 952.6,1151.3 956.1,1152.6 959.6,1154.0 963.1,1155.4 966.7,1156.8 970.2,1158.2 973.7,1159.6 977.2,1161.0 980.7,1162.5 984.2,1164.0 987.7,1165.5 991.2,1167.0 994.8,1168.5 998.3,1170.0 1001.8,1171.6 1005.3,1173.1 1008.8,1174.7 1012.3,1176.3 1015.8,1178.0 1019.4,1179.6 1022.9,1181.3 1026.4,1182.9 1029.9,1184.6 1033.4,1186.3 1036.9,1188.1 1040.4,1189.8 1043.9,1191.6 1047.5,1193.3 1051.0,1195.1 1054.5,1197.0 1058.0,1198.8 1061.5,1200.7 1065.0,1202.5 1068.5,1204.4 1072.1,1206.4 1075.6,1208.3 1079.1,1210.2 1082.6,1212.2 1086.1,1214.2 1089.6,1216.2 1093.1,1218.3 1096.6,1220.3 1100.2,1222.4 1103.7,1224.5 1107.2,1226.6 1110.7,1228.7 1114.2,1230.9 1117.7,1233.1 1121.2,1235.3 1124.8,1237.5 1128.3,1239.7 1131.8,1242.0 1135.3,1244.3 1138.8,1246.6 1142.3,1248.9 1145.8,1251.2 1149.3,1253.6 1152.9,1256.0 1156.4,1258.4 1159.9,1260.8 1163.4,1263.3 1166.9,1265.8 1170.4,1268.2 1173.9,1270.8 1177.5,1273.3 1181.0,1275.8 1184.5,1278.4 1188.0,1281.0 1191.5,1283.6 1195.0,1286.2 1198.5,1288.9 1202.0,1291.6 1205.6,1294.2 1209.1,1297.0 1212.6,1299.7 1216.1,1302.4 1219.6,1305.2 1223.1,1308.0 1226.6,1310.8 1230.2,1313.6 1233.7,1316.4 1237.2,1319.2 1240.7,1322.1 1244.2,1325.0 1247.7,1327.9 1251.2,1330.8 1254.7,1333.7 1258.3,1336.6 1261.8,1339.5 1265.3,1342.5 1268.8,1345.4 1272.3,1348.4 1275.8,1351.4 1279.3,1354.4 1282.9,1357.4 1286.4,1360.4 1289.9,1363.4 1293.4,1366.4 1296.9,1369.5 1300.4,1372.5 1303.9,1375.5 1307.4,1378.6 1311.0,1381.6 1314.5,1384.6 1318.0,1387.7 1321.5,1390.7 1325.0,1393.8 1328.5,1396.8 1332.0,1399.9 1335.6,1402.9 1339.1,1405.9 1342.6,1409.0 1346.1,1412.0 1349.6,1415.0 1353.1,1418.0 1356.6,1421.0 1360.1,1424.0 1363.7,1427.0 1367.2,1430.0 1370.7,1433.0 1374.2,1435.9 1377.7,1438.9 1381.2,1441.8 1384.7,1444.7 1388.3,1447.7 1391.8,1450.6 1395.3,1453.4 1398.8,1456.3 1402.3,1459.2 1405.8,1462.0 1409.3,1464.8 1412.8,1467.6 1416.4,1470.4 1419.9,1473.2 1423.4,1476.0 1426.9,1478.7 1430.4,1481.4 1433.9,1484.1 1437.4,1486.8 1441.0,1489.5 1444.5,1492.1 1448.0,1494.8 1451.5,1497.4 1455.0,1500.0 1458.5,1502.5 1462.0,1505.1 1465.5,1507.6 1469.1,1510.1 1472.6,1512.6 1476.1,1515.1 1479.6,1517.5 1483.1,1519.9 1486.6,1522.3 1490.1,1524.7 1493.7,1527.1 1497.2,1529.4 1500.7,1531.7 1504.2,1534.0 1507.7,1536.3 1511.2,1538.6 1514.7,1540.8 1518.2,1543.0 1521.8,1545.2 1525.3,1547.4 1528.8,1549.6 1532.3,1551.7 1535.8,1553.8 1539.3,1555.9 1542.8,1558.0 1546.4,1560.0 1549.9,1562.1 1553.4,1564.1 1556.9,1566.1 1560.4,1568.0 1563.9,1570.0 1567.4,1571.9 1570.9,1573.8 1574.5,1575.7 1578.0,1577.6 1581.5,1579.5 1585.0,1581.3 1588.5,1583.1 1592.0,1584.9 1595.5,1586.7 1599.1,1588.4 1602.6,1590.2 1606.1,1591.9 1609.6,1593.6 1613.1,1595.3 1616.6,1597.0 1620.1,1598.6 1623.6,1600.3 1627.2,1601.9 1630.7,1603.5 1634.2,1605.1 1637.7,1606.6 1641.2,1608.2 1644.7,1609.7 1648.2,1611.2 1651.8,1612.7 1655.3,1614.2 1658.8,1615.7 1662.3,1617.2 1665.8,1618.6 1669.3,1620.0 1672.8,1621.4 1676.3,1622.8 1679.9,1624.2 1683.4,1625.6 1686.9,1626.9 1690.4,1628.2 1693.9,1629.5 1697.4,1630.8 1700.9,1632.1 1704.5,1633.4 1708.0,1634.7 1711.5,1635.9 1715.0,1637.2 1718.5,1638.4 1722.0,1639.6 1725.5,1640.8 1729.0,1641.9 1732.6,1643.1 1736.1,1644.3 1739.6,1645.4 1743.1,1646.5 1746.6,1647.7 1750.1,1648.8 1753.6,1649.8 1757.2,1650.9 1760.7,1652.0 1764.2,1653.0 1767.7,1654.1 1771.2,1655.1 1774.7,1656.1 1778.2,1657.2 1781.7,1658.1 1785.3,1659.1 1788.8,1660.1 1792.3,1661.1 1795.8,1662.0 1799.3,1663.0 1802.8,1663.9 1806.3,1664.8 1809.9,1665.7 1813.4,1666.6 1816.9,1667.5 1820.4,1668.4 1823.9,1669.3 1827.4,1670.1 1830.9,1671.0 1834.4,1671.8 1838.0,1672.7 1841.5,1673.5 1845.0,1674.3 1848.5,1675.1 1852.0,1675.9 1855.5,1676.7 1859.0,1677.5 1862.6,1678.2 1866.1,1679.0 1869.6,1679.8 1873.1,1680.5 1876.6,1681.2 1880.1,1682.0 1883.6,1682.7 1887.1,1683.4 1890.7,1684.1 1894.2,1684.8 1897.7,1685.5 1901.2,1686.2 1904.7,1686.8 1908.2,1687.5 1911.7,1688.1 1915.3,1688.8 1918.8,1689.4 1922.3,1690.1 1925.8,1690.7 1929.3,1691.3 1932.8,1691.9 1936.3,1692.5 1939.8,1693.1 1943.4,1693.7 1946.9,1694.3 1950.4,1694.9 1953.9,1695.5 1957.4,1696.0 1960.9,1696.6 1964.4,1697.1 1968.0,1697.7 1971.5,1698.2 1975.0,1698.8 1978.5,1699.3 1982.0,1699.8 1985.5,1700.3 1989.0,1700.8 1992.5,1701.3 1996.1,1701.8 1999.6,1702.3 2003.1,1702.8 2006.6,1703.3 2010.1,1703.8 2013.6,1704.2 2017.1,1704.7 2020.7,1705.2 2024.2,1705.6 2027.7,1706.1 2031.2,1706.5 2034.7,1707.0 2038.2,1707.4 2041.7,1707.8 2045.2,1708.3 2048.8,1708.7 2052.3,1709.1 2055.8,1709.5 2059.3,1709.9 2062.8,1710.3 2066.3,1710.7 2069.8,1711.1 2073.4,1711.5 2076.9,1711.9 2080.4,1712.2 2083.9,1712.6 2087.4,1713.0 2090.9,1713.4 2094.4,1713.7 2097.9,1714.1 2101.5,1714.4 2105.0,1714.8 2108.5,1715.1 2112.0,1715.5 2115.5,1715.8 2119.0,1716.1 2122.5,1716.5 2126.1,1716.8 2129.6,1717.1 2133.1,1717.4 2136.6,1717.8 2140.1,1718.1 2143.6,1718.4 2147.1,1718.7 2150.6,1719.0 2154.2,1719.3 2157.7,1719.6 2161.2,1719.9 2164.7,1720.1 2168.2,1720.4 2171.7,1720.7 2175.2,1721.0 2178.8,1721.3 2182.3,1721.5 2185.8,1721.8 2189.3,1722.1 2192.8,1722.3 2196.3,1722.6 2199.8,1722.8 2203.3,1723.1 2206.9,1723.4 2210.4,1723.6 2213.9,1723.8 2217.4,1724.1 2220.9,1724.3 2224.4,1724.6 2227.9,1724.8 2231.5,1725.0 2235.0,1725.3 2238.5,1725.5 2242.0,1725.7 2245.5,1725.9 2249.0,1726.1 2252.5,1726.4 2256.0,1726.6 2259.6,1726.8 2263.1,1727.0 2266.6,1727.2 2270.1,1727.4 2273.6,1727.6 2277.1,1727.8 2280.6,1728.0 2284.2,1728.2 2287.7,1728.4 2291.2,1728.6 2294.7,1728.8 2298.2,1729.0 2301.7,1729.1 2305.2,1729.3 2308.7,1729.5 2312.3,1729.7 2315.8,1729.8 2319.3,1730.0 2322.8,1730.2 2326.3,1730.4 2329.8,1730.5 2333.3,1730.7 2336.9,1730.9 2340.4,1731.0 2343.9,1731.2 2347.4,1731.3 2350.9,1731.5 2354.4,1731.7 2357.9,1731.8 2361.4,1732.0 2365.0,1732.1 2368.5,1732.3 2372.0,1732.4 2375.5,1732.5" stroke="#10c84c" stroke-dasharray="49.5 10.44 25.5 10.44"/>
<polyline points="266.3,1047.4 267.5,1047.4 271.0,1047.6 274.5,1047.8 278.0,1047.9 281.6,1048.1 285.1,1048.3 288.6,1048.5 292.1,1048.6 295.6,1048.8 299.1,1049.0 302.6,1049.2 306.1,1049.4 309.7,1049.6 313.2,1049.7 316.7,1049.9 320.2,1050.1 323.7,1050.3 327.2,1050.5 330.7,1050.7 334.3,1050.9 337.8,1051.2 341.3,1051.4 344.8,1051.6 348.3,1051.8 351.8,1052.0 355.3,1052.2 358.8,1052.5 362.4,1052.7 365.9,1052.9 369.4,1053.1 372.9,1053.4 376.4,1053.6 379.9,1053.8 383.4,1054.1 387.0,1054.3 390.5,1054.6 394.0,1054.8 397.5,1055.1 401.0,1055.3 404.5,1055.6 408.0,1055.8 411.5,1056.1 415.1,1056.4 418.6,1056.6 422.1,1056.9 425.6,1057.2 429.1,1057.5 432.6,1057.8 436.1,1058.0 439.7,1058.3 443.2,1058.6 446.7,1058.9 450.2,1059.2 453.7,1059.5 457.2,1059.8 460.7,1060.1 464.2,1060.5 467.8,1060.8 471.3,1061.1 474.8,1061.4 478.3,1061.7 481.8,1062.1 485.3,1062.4 488.8,1062.8 492.4,1063.1 495.9,1063.4 499.4,1063.8 502.9,1064.2 506.4,1064.5 509.9,1064.9 513.4,1065.2 516.9,1065.6 520.5,1066.0 524.0,1066.4 527.5,1066.8 531.0,1067.1 534.5,1067.5 538.0,1067.9 541.5,1068.3 545.1,1068.8 548.6,1069.2 552.1,1069.6 555.6,1070.0 559.1,1070.4 562.6,1070.9 566.1,1071.3 569.6,1071.7 573.2,1072.2 576.7,1072.6 580.2,1073.1 583.7,1073.6 587.2,1074.0 590.7,1074.5 594.2,1075.0 597.8,1075.5 601.3,1075.9 604.8,1076.4 608.3,1076.9 611.8,1077.4 615.3,1078.0 618.8,1078.5 622.3,1079.0 625.9,1079.5 629.4,1080.1 632.9,1080.6 636.4,1081.1 639.9,1081.7 643.4,1082.3 646.9,1082.8 650.5,1083.4 654.0,1084.0 657.5,1084.6 661.0,1085.2 664.5,1085.8 668.0,1086.4 671.5,1087.0 675.0,1087.6 678.6,1088.2 682.1,1088.8 685.6,1089.5 689.1,1090.1 692.6,1090.8 696.1,1091.5 699.6,1092.1 703.2,1092.8 706.7,1093.5 710.2,1094.2 713.7,1094.9 717.2,1095.6 720.7,1096.3 724.2,1097.0 727.7,1097.8 731.3,1098.5 734.8,1099.2 738.3,1100.0 741.8,1100.8 745.3,1101.5 748.8,1102.3 752.3,1103.1 755.9,1103.9 759.4,1104.7 762.9,1105.5 766.4,1106.3 769.9,1107.2 773.4,1108.0 776.9,1108.9 780.4,1109.7 784.0,1110.6 787.5,1111.5 791.0,1112.4 794.5,1113.3 798.0,1114.2 801.5,1115.1 805.0,1116.0 808.6,1117.0 812.1,1117.9 815.6,1118.9 819.1,1119.9 822.6,1120.8 826.1,1121.8 829.6,1122.8 833.1,1123.9 836.7,1124.9 840.2,1125.9 843.7,1127.0 847.2,1128.0 850.7,1129.1 854.2,1130.2 857.7,1131.3 861.3,1132.4 864.8,1133.5 868.3,1134.6 871.8,1135.7 875.3,1136.9 878.8,1138.0 882.3,1139.2 885.8,1140.4 889.4,1141.6 892.9,1142.8 896.4,1144.0 899.9,1145.3 903.4,1146.5 906.9,1147.8 910.4,1149.0 914.0,1150.3 917.5,1151.6 921.0,1152.9 924.5,1154.2 928.0,1155.6 931.5,1156.9 935.0,1158.3 938.5,1159.7 942.1,1161.1 945.6,1162.5 949.1,1163.9 952.6,1165.3 956.1,1166.8 959.6,1168.2 963.1,1169.7 966.7,1171.2 970.2,1172.7 973.7,1174.2 977.2,1175.7 980.7,1177.3 984.2,1178.8 987.7,1180.4 991.2,1182.0 994.8,1183.6 998.3,1185.2 1001.8,1186.8 1005.3,1188.5 1008.8,1190.1 1012.3,1191.8 1015.8,1193.5 1019.4,1195.2 1022.9,1196.9 1026.4,1198.7 1029.9,1200.4 1033.4,1202.2 1036.9,1204.0 1040.4,1205.8 1043.9,1207.6 1047.5,1209.4 1051.0,1211.2 1054.5,1213.1 1058.0,1215.0 1061.5,1216.8 1065.0,1218.7 1068.5,1220.7 1072.1,1222.6 1075.6,1224.5 1079.1,1226.5 1082.6,1228.5 1086.1,1230.4 1089.6,1232.5 1093.1,1234.5 1096.6,1236.5 1100.2,1238.6 1103.7,1240.6 1107.2,1242.7 1110.7,1244.8 1114.2,1246.9 1117.7,1249.0 1121.2,1251.1 1124.8,1253.3 1128.3,1255.5 1131.8,1257.6 1135.3,1259.8 1138.8,1262.0 1142.3,1264.2 1145.8,1266.5 1149.3,1268.7 1152.9,1271.0 1156.4,1273.2 1159.9,1275.5 1163.4,1277.8 1166.9,1280.1 1170.4,1282.4 1173.9,1284.8 1177.5,1287.1 1181.0,1289.5 1184.5,1291.8 1188.0,1294.2 1191.5,1296.6 1195.0,1299.0 1198.5,1301.4 1202.0,1303.8 1205.6,1306.3 1209.1,1308.7 1212.6,1311.2 1216.1,1313.6 1219.6,1316.1 1223.1,1318.6 1226.6,1321.1 1230.2,1323.6 1233.7,1326.1 1237.2,1328.6 1240.7,1331.1 1244.2,1333.6 1247.7,1336.2 1251.2,1338.7 1254.7,1341.3 1258.3,1343.8 1261.8,1346.4 1265.3,1348.9 1268.8,1351.5 1272.3,1354.1 1275.8,1356.7 1279.3,1359.3 1282.9,1361.9 1286.4,1364.4 1289.9,1367.0 1293.4,1369.6 1296.9,1372.2 1300.4,1374.8 1303.9,1377.4 1307.4,1380.1 1311.0,1382.7 1314.5,1385.3 1318.0,1387.9 1321.5,1390.5 1325.0,1393.1 1328.5,1395.7 1332.0,1398.3 1335.6,1400.9 1339.1,1403.5 1342.6,1406.1 1346.1,1408.7 1349.6,1411.3 1353.1,1413.9 1356.6,1416.5 1360.1,1419.1 1363.7,1421.7 1367.2,1424.3 1370.7,1426.8 1374.2,1429.4 1377.7,1432.0 1381.2,1434.5 1384.7,1437.1 1388.3,1439.6 1391.8,1442.2 1395.3,1444.7 1398.8,1447.2 1402.3,1449.8 1405.8,1452.3 1409.3,1454.8 1412.8,1457.3 1416.4,1459.8 1419.9,1462.2 1423.4,1464.7 1426.9,1467.2 1430.4,1469.6 1433.9,1472.1 1437.4,1474.5 1441.0,1476.9 1444.5,1479.3 1448.0,1481.7 1451.5,1484.1 1455.0,1486.5 1458.5,1488.9 1462.0,1491.2 1465.5,1493.5 1469.1,1495.9 1472.6,1498.2 1476.1,1500.5 1479.6,1502.8 1483.1,1505.1 1486.6,1507.3 1490.1,1509.6 1493.7,1511.8 1497.2,1514.1 1500.7,1516.3 1504.2,1518.5 1507.7,1520.7 1511.2,1522.8 1514.7,1525.0 1518.2,1527.2 1521.8,1529.3 1525.3,1531.4 1528.8,1533.5 1532.3,1535.6 1535.8,1537.7 1539.3,1539.7 1542.8,1541.8 1546.4,1543.8 1549.9,1545.8 1553.4,1547.8 1556.9,1549.8 1560.4,1551.8 1563.9,1553.7 1567.4,1555.7 1570.9,1557.6 1574.5,1559.5 1578.0,1561.4 1581.5,1563.3 1585.0,1565.2 1588.5,1567.0 1592.0,1568.9 1595.5,1570.7 1599.1,1572.5 1602.6,1574.3 1606.1,1576.1 1609.6,1577.8 1613.1,1579.6 1616.6,1581.3 1620.1,1583.0 1623.6,1584.7 1627.2,1586.4 1630.7,1588.1 1634.2,1589.7 1637.7,1591.4 1641.2,1593.0 1644.7,1594.6 1648.2,1596.2 1651.8,1597.8 1655.3,1599.4 1658.8,1600.9 1662.3,1602.5 1665.8,1604.0 1669.3,1605.5 1672.8,1607.0 1676.3,1608.5 1679.9,1610.0 1683.4,1611.4 1686.9,1612.9 1690.4,1614.3 1693.9,1615.7 1697.4,1617.1 1700.9,1618.5 1704.5,1619.9 1708.0,1621.3 1711.5,1622.6 1715.0,1623.9 1718.5,1625.3 1722.0,1626.6 1725.5,1627.9 1729.0,1629.1 1732.6,1630.4 1736.1,1631.7 1739.6,1632.9 1743.1,1634.2 1746.6,1635.4 1750.1,1636.6 1753.6,1637.8 1757.2,1639.0 1760.7,1640.1 1764.2,1641.3 1767.7,1642.4 1771.2,1643.6 1774.7,1644.7 1778.2,1645.8 1781.7,1646.9 1785.3,1648.0 1788.8,1649.1 1792.3,1650.1 1795.8,1651.2 1799.3,1652.2 1802.8,1653.3 1806.3,1654.3 1809.9,1655.3 1813.4,1656.3 1816.9,1657.3 1820.4,1658.3 1823.9,1659.2 1827.4,1660.2 1830.9,1661.1 1834.4,1662.1 1838.0,1663.0 1841.5,1663.9 1845.0,1664.8 1848.5,1665.7 1852.0,1666.6 1855.5,1667.5 1859.0,1668.4 1862.6,1669.2 1866.1,1670.1 1869.6,1670.9 1873.1,1671.8 1876.6,1672.6 1880.1,1673.4 1883.6,1674.2 1887.1,1675.0 1890.7,1675.8 1894.2,1676.6 1897.7,1677.3 1901.2,1678.1 1904.7,1678.9 1908.2,1679.6 1911.7,1680.4 1915.3,1681.1 1918.8,1681.8 1922.3,1682.5 1925.8,1683.2 1929.3,1683.9 1932.8,1684.6 1936.3,1685.3 1939.8,1686.0 1943.4,1686.6 1946.9,1687.3 1950.4,1688.0 1953.9,1688.6 1957.4,1689.2 1960.9,1689.9 1964.4,1690.5 1968.0,1691.1 1971.5,1691.7 1975.0,1692.3 1978.5,1692.9 1982.0,1693.5 1985.5,1694.1 1989.0,1694.7 1992.5,1695.3 1996.1,1695.8 1999.6,1696.4 2003.1,1696.9 2006.6,1697.5 2010.1,1698.0 2013.6,1698.5 2017.1,1699.1 2020.7,1699.6 2024.2,1700.1 2027.7,1700.6 2031.2,1701.1 2034.7,1701.6 2038.2,1702.1 2041.7,1702.6 2045.2,1703.1 2048.8,1703.6 2052.3,1704.0 2055.8,1704.5 2059.3,1705.0 2062.8,1705.4 2066.3,1705.9 2069.8,1706.3 2073.4,1706.8 2076.9,1707.2 2080.4,1707.6 2083.9,1708.1 2087.4,1708.5 2090.9,1708.9 2094.4,1709.3 2097.9,1709.7 2101.5,1710.1 2105.0,1710.5 2108.5,1710.9 2112.0,1711.3 2115.5,1711.7 2119.0,1712.1 2122.5,1712.4 2126.1,1712.8 2129.6,1713.2 2133.1,1713.5 2136.6,1713.9 2140.1,1714.3 2143.6,1714.6 2147.1,1714.9 2150.6,1715.3 2154.2,1715.6 2157.7,1716.0 2161.2,1716.3 2164.7,1716.6 2168.2,1716.9 2171.7,1717.3 2175.2,1717.6 2178.8,1717.9 2182.3,1718.2 2185.8,1718.5 2189.3,1718.8 2192.8,1719.1 2196.3,1719.4 2199.8,1719.7 2203.3,1720.0 2206.9,1720.3 2210.4,1720.6 2213.9,1720.8 2217.4,1721.1 2220.9,1721.4 2224.4,1721.7 2227.9,1721.9 2231.5,1722.2 2235.0,1722.4 2238.5,1722.7 2242.0,1723.0 2245.5,1723.2 2249.0,1723.5 2252.5,1723.7 2256.0,1724.0 2259.6,1724.2 2263.1,1724.4 2266.6,1724.7 2270.1,1724.9 2273.6,1725.1 2277.1,1725.4 2280.6,1725.6 2284.2,1725.8 2287.7,1726.0 2291.2,1726.2 2294.7,1726.5 2298.2,1726.7 2301.7,1726.9 2305.2,1727.1 2308.7,1727.3 2312.3,1727.5 2315.8,1727.7 2319.3,1727.9 2322.8,1728.1 2326.3,1728.3 2329.8,1728.5 2333.3,1728.7 2336.9,1728.8 2340.4,1729.0 2343.9,1729.2 2347.4,1729.4 2350.9,1729.6 2354.4,1729.7 2357.9,1729.9 2361.4,1730.1 2365.0,1730.3 2368.5,1730.4 2372.0,1730.6 2375.5,1730.8" stroke="#ff00ff" stroke-dasharray="49.5 46.38"/>
</g>
<rect x="579" y="854" width="1537" height="112" fill="#fff" stroke="#262626" stroke-width="4"/>
<g fill="none" stroke-width="14">
<line x1="598" y1="910" x2="799" y2="910" stroke="#0000ff" stroke-dasharray="13 11"/>
<line x1="1007.5" y1="910" x2="1209" y2="910" stroke="#ff0000"/>
<line x1="1367" y1="910" x2="1567" y2="910" stroke="#10c84c" stroke-dasharray="49 11 25 11 49 10 25 11 9 100"/>
<line x1="1777" y1="910" x2="1978" y2="910" stroke="#ff00ff" stroke-dasharray="49 47"/>
</g>
<g shape-rendering="geometricPrecision" text-rendering="geometricPrecision">
<text class="title" transform="translate(1315,88.3) scale(0.983,1)" font-family="'Liberation Sans', sans-serif" font-size="74.4" text-anchor="middle" fill="#000" font-weight="bold" stroke="#000" stroke-width="0.4" stroke-linejoin="round">Bode Diagram of MSTOGI</text>
<text class="xlabel" transform="translate(1316.2,1960.8) scale(0.997,1)" font-family="'Liberation Sans', sans-serif" font-size="74" text-anchor="middle" fill="#000" xml:space="preserve" style="white-space:pre" stroke="#000" stroke-width="0.8" stroke-linejoin="round">Frequency  (rad/s)</text>
<text class="yt0" transform="translate(237.7,156.7)" font-family="'Liberation Serif', serif" font-size="68.8" text-anchor="end" fill="#0000ff" stroke="#0000ff" stroke-width="0.8" stroke-linejoin="round">0</text>
<text class="yt10" transform="translate(237.7,362.2)" font-family="'Liberation Serif', serif" font-size="68.8" text-anchor="end" fill="#0000ff" stroke="#0000ff" stroke-width="0.8" stroke-linejoin="round">-10</text>
<text class="yt20" transform="translate(237.7,567.7)" font-family="'Liberation Serif', serif" font-size="68.8" text-anchor="end" fill="#0000ff" stroke="#0000ff" stroke-width="0.8" stroke-linejoin="round">-20</text>
<text class="yt30" transform="translate(237.7,773.2)" font-family="'Liberation Serif', serif" font-size="68.8" text-anchor="end" fill="#0000ff" stroke="#0000ff" stroke-width="0.8" stroke-linejoin="round">-30</text>
<text class="yt40" transform="translate(237.7,978.7)" font-family="'Liberation Serif', serif" font-size="68.8" text-anchor="end" fill="#0000ff" stroke="#0000ff" stroke-width="0.8" stroke-linejoin="round">-40</text>
<text class="yp450" transform="translate(240.6,1045.7) scale(0.975,1)" font-family="'Liberation Serif', serif" font-size="68.8" text-anchor="end" fill="#0000ff" stroke="#0000ff" stroke-width="0.8" stroke-linejoin="round">450</text>
<text class="yp360" transform="translate(240.6,1223.7) scale(0.975,1)" font-family="'Liberation Serif', serif" font-size="68.8" text-anchor="end" fill="#0000ff" stroke="#0000ff" stroke-width="0.8" stroke-linejoin="round">360</text>
<text class="yp270" transform="translate(240.6,1401.7) scale(0.975,1)" font-family="'Liberation Serif', serif" font-size="68.8" text-anchor="end" fill="#0000ff" stroke="#0000ff" stroke-width="0.8" stroke-linejoin="round">270</text>
<text class="yp180" transform="translate(240.6,1579.7) scale(0.975,1)" font-family="'Liberation Serif', serif" font-size="68.8" text-anchor="end" fill="#0000ff" stroke="#0000ff" stroke-width="0.8" stroke-linejoin="round">180</text>
<text class="yp90" transform="translate(240.6,1757.7) scale(0.975,1)" font-family="'Liberation Serif', serif" font-size="68.8" text-anchor="end" fill="#0000ff" stroke="#0000ff" stroke-width="0.8" stroke-linejoin="round">90</text>
<text class="xb1" transform="translate(216.9,1858)" font-family="'Liberation Serif', serif" font-size="68.8" text-anchor="start" fill="#0000ff" stroke="#0000ff" stroke-width="0.8" stroke-linejoin="round">10</text>
<text class="xs1" transform="translate(283.5,1826.3)" font-family="'Liberation Serif', serif" font-size="55" text-anchor="start" fill="#0000ff" stroke="#0000ff" stroke-width="0.8" stroke-linejoin="round">1</text>
<text class="xb2" transform="translate(919.567,1858)" font-family="'Liberation Serif', serif" font-size="68.8" text-anchor="start" fill="#0000ff" stroke="#0000ff" stroke-width="0.8" stroke-linejoin="round">10</text>
<text class="xs2" transform="translate(987.767,1826.3) scale(1.08,1)" font-family="'Liberation Serif', serif" font-size="55" text-anchor="start" fill="#0000ff" stroke="#0000ff" stroke-width="0.8" stroke-linejoin="round">2</text>
<text class="xb3" transform="translate(1622.23,1858)" font-family="'Liberation Serif', serif" font-size="68.8" text-anchor="start" fill="#0000ff" stroke="#0000ff" stroke-width="0.8" stroke-linejoin="round">10</text>
<text class="xs3" transform="translate(1690.43,1826.3) scale(1.02,1)" font-family="'Liberation Serif', serif" font-size="55" text-anchor="start" fill="#0000ff" stroke="#0000ff" stroke-width="0.8" stroke-linejoin="round">3</text>
<text class="xb4" transform="translate(2324.9,1858)" font-family="'Liberation Serif', serif" font-size="68.8" text-anchor="start" fill="#0000ff" stroke="#0000ff" stroke-width="0.8" stroke-linejoin="round">10</text>
<text class="xs4" transform="translate(2393.9,1826.3)" font-family="'Liberation Serif', serif" font-size="55" text-anchor="start" fill="#0000ff" stroke="#0000ff" stroke-width="0.8" stroke-linejoin="round">4</text>
<text class="yl1" transform="translate(88,556.9) rotate(-90) scale(1.0878,1)" font-family="'Liberation Serif', serif" font-size="74" text-anchor="middle" fill="#000" stroke="#000" stroke-width="0.8" stroke-linejoin="round">Magnitude (dB)</text>
<text class="yl2" transform="translate(80,1391) rotate(-90) scale(1.0854,1)" font-family="'Liberation Serif', serif" font-size="74" text-anchor="middle" fill="#000" stroke="#000" stroke-width="0.8" stroke-linejoin="round">Phase (deg)</text>
<text class="lg0" transform="translate(816,923.8) scale(0.935,1)" font-family="'Liberation Serif', serif" font-size="70" text-anchor="start" fill="#000" font-weight="bold" font-style="italic" stroke="#000" stroke-width="0.5" stroke-linejoin="round">k<tspan dy="2.5">=</tspan><tspan dy="-2.5">0.5</tspan></text>
<text class="lg1" transform="translate(1226,923.8) scale(0.935,1)" font-family="'Liberation Serif', serif" font-size="70" text-anchor="start" fill="#000" font-weight="bold" font-style="italic" stroke="#000" stroke-width="0.5" stroke-linejoin="round">k<tspan dy="2.5">=</tspan><tspan dy="-2.5">1</tspan></text>
<text class="lg2" transform="translate(1585,923.8) scale(0.935,1)" font-family="'Liberation Serif', serif" font-size="70" text-anchor="start" fill="#000" font-weight="bold" font-style="italic" stroke="#000" stroke-width="0.5" stroke-linejoin="round">k<tspan dy="2.5">=</tspan><tspan dy="-2.5">1.5</tspan></text>
<text class="lg3" transform="translate(1995,923.8) scale(0.935,1)" font-family="'Liberation Serif', serif" font-size="70" text-anchor="start" fill="#000" font-weight="bold" font-style="italic" stroke="#000" stroke-width="0.5" stroke-linejoin="round">k<tspan dy="2.5">=</tspan><tspan dy="-2.5">2</tspan></text>
</g>
</svg>
</body></html>
